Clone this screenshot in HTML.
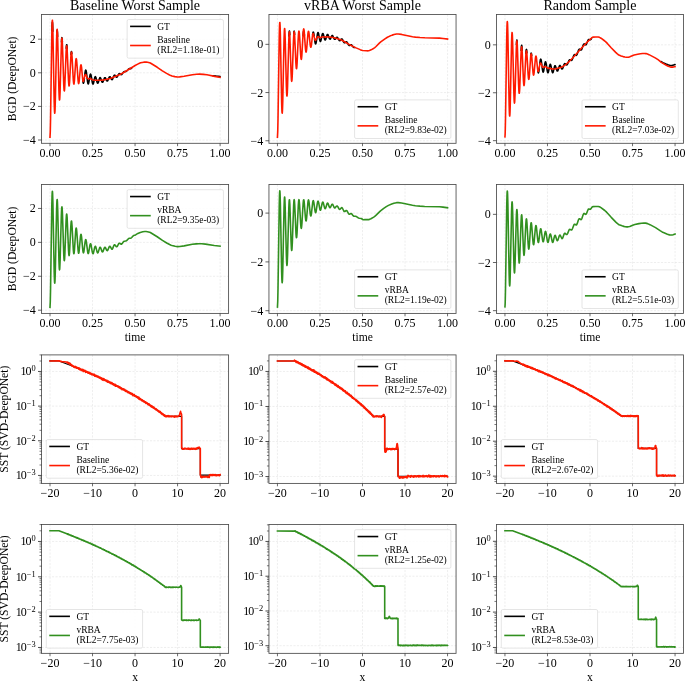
<!DOCTYPE html><html><head><meta charset="utf-8"><style>html,body{margin:0;padding:0;background:#fff;overflow:hidden}svg{display:block;will-change:transform}</style></head><body><svg width="685" height="681" viewBox="0 0 685 681" font-family='"Liberation Serif", serif' fill="#000">
<rect width="685" height="681" fill="#fff"/>
<path d="M50.00 14.45 V143.30 M92.53 14.45 V143.30 M135.05 14.45 V143.30 M177.57 14.45 V143.30 M220.10 14.45 V143.30 M41.50 140.00 H228.60 M41.50 106.40 H228.60 M41.50 72.80 H228.60 M41.50 39.20 H228.60" stroke="#e0e0e0" stroke-width="0.55" stroke-dasharray="2.1 1.4" fill="none"/>
<path d="M51.92 31.15 52.13 24.74 52.34 22.24 52.42 22.30 52.56 23.71 52.84 31.36 M56.74 35.59 56.95 31.48 57.09 30.36 57.17 30.29 57.38 32.04 57.59 36.51 M61.49 42.10 61.70 38.78 61.92 37.67 62.13 38.79 62.34 42.00 M66.24 48.33 66.45 45.70 66.67 44.72 66.74 44.77 66.88 45.43 67.16 48.84 M70.99 54.53 71.20 52.44 71.42 51.61 71.49 51.62 71.63 52.07 71.84 53.78 M82.76 80.20 83.19 82.79 83.33 83.13 83.40 83.21 83.54 83.15 83.90 81.91 84.39 78.25 M84.68 75.73 85.10 72.35 85.38 70.81 85.67 70.11 85.81 70.10 85.95 70.32 86.16 71.07 86.45 72.75 87.58 81.86 87.94 83.48 88.08 83.79 88.22 83.89 88.36 83.79 88.50 83.50 88.79 82.41 89.99 75.29 90.35 74.25 90.49 74.12 90.63 74.17 90.91 74.75 91.20 75.92 92.40 82.81 92.69 83.72 92.97 84.06 93.18 83.92 93.47 83.26 94.67 77.92 94.96 77.07 95.24 76.68 95.38 76.66 95.52 76.77 95.81 77.32 97.08 82.19 97.44 83.01 97.72 83.23 97.93 83.13 98.22 82.65 99.49 78.53 99.78 77.93 100.06 77.65 100.34 77.72 100.63 78.13 101.90 81.65 102.26 82.20 102.54 82.30 102.75 82.16 103.04 81.72 104.24 78.48 104.53 77.96 104.81 77.69 105.09 77.69 105.38 77.96 106.65 80.52 107.01 80.95 107.29 81.02 107.58 80.84 107.86 80.42 109.06 77.48 109.35 76.98 109.63 76.72 109.92 76.70 110.20 76.93 111.48 79.27 111.76 79.58 112.04 79.65 112.33 79.46 112.61 79.02 113.74 76.15 114.03 75.60 114.31 75.25 114.60 75.13 114.95 75.30 116.08 76.85 116.37 77.10 116.65 77.19 116.93 77.08 117.22 76.80 118.00 75.39 M118.14 75.10 118.71 74.12 119.20 73.66 119.42 73.61 119.70 73.67 120.83 74.49 121.33 74.60 121.61 74.50 121.90 74.28 122.61 73.35 M123.17 72.53 123.60 72.06 124.02 71.77 124.45 71.63 125.02 71.58 M125.73 71.51 126.29 71.29 126.79 70.94 M128.21 69.40 128.99 68.80 129.77 68.65 M130.19 68.67 130.69 68.65 131.04 68.53 131.47 68.25 131.89 67.81 M212.79 75.69 216.20 76.13 220.10 76.50" fill="none" stroke="#000000" stroke-width="1.6" stroke-linejoin="round" stroke-linecap="round"/>
<path d="M50.00 137.14 50.29 131.34 50.57 118.27 51.78 35.88 52.06 24.58 52.20 21.50 52.34 20.23 52.42 20.28 52.49 20.79 52.63 23.10 52.91 32.48 54.19 102.22 54.47 110.61 54.61 112.66 54.75 113.19 54.90 112.21 55.04 109.77 55.32 100.99 56.60 39.06 56.88 31.60 57.02 29.78 57.17 29.31 57.31 30.18 57.45 32.34 57.73 40.08 58.94 90.68 59.22 97.55 59.36 99.38 59.51 100.06 59.65 99.58 59.79 98.00 60.07 91.80 61.35 45.79 61.63 40.07 61.77 38.62 61.92 38.16 62.06 38.69 62.20 40.17 62.48 45.69 63.76 84.91 64.04 89.57 64.18 90.68 64.33 90.95 64.47 90.38 64.61 89.00 64.89 84.07 66.10 51.91 66.38 47.51 66.52 46.34 66.67 45.89 66.74 45.95 66.88 46.60 67.16 49.91 68.44 79.41 68.79 84.51 68.94 85.52 69.08 85.91 69.15 85.86 69.29 85.29 69.57 82.40 70.85 57.05 71.13 53.52 71.27 52.53 71.42 52.10 71.49 52.10 71.56 52.24 71.70 52.95 72.05 56.91 73.33 80.40 73.61 83.19 73.76 83.87 73.90 84.05 74.04 83.74 74.18 82.95 74.47 80.12 75.67 61.76 75.95 59.39 76.10 58.82 76.24 58.69 76.38 58.99 76.52 59.71 76.81 62.29 78.08 80.49 78.36 82.75 78.51 83.34 78.65 83.55 78.79 83.39 78.93 82.86 79.22 80.85 80.42 67.25 80.70 65.45 80.85 64.99 80.99 64.86 81.13 65.05 81.27 65.55 81.56 67.40 82.69 79.52 82.97 81.05 83.12 81.40 83.26 81.49 83.47 81.22 83.68 80.56 84.82 75.45 85.10 74.74 85.38 74.45 85.67 74.53 85.95 74.93 86.94 77.32 87.37 78.16 87.72 78.61 88.15 78.84 88.57 78.83 89.50 78.61 89.99 78.61 90.63 78.82 92.19 79.67 92.97 79.92 94.03 80.08 96.80 80.25 99.00 80.26 101.34 80.12 103.53 79.88 105.80 79.51 109.99 78.46 112.18 77.76 121.12 73.90 124.10 72.27 135.16 65.50 137.71 64.11 139.48 63.25 140.62 62.82 142.18 62.46 143.81 62.17 145.15 62.05 146.29 62.09 147.56 62.27 149.55 62.73 150.33 63.03 157.28 67.29 162.38 70.81 166.57 73.38 169.54 74.95 171.03 75.63 172.10 75.98 174.86 76.65 177.27 76.98 179.61 76.90 184.08 76.28 192.37 74.71 196.70 74.24 199.53 74.15 203.29 74.36 206.91 74.74 208.18 74.95 214.64 76.40 220.10 77.34" fill="none" stroke="#ff1a00" stroke-width="1.6" stroke-linejoin="round" stroke-linecap="square"/>
<rect x="41.5" y="14.45" width="187.10" height="128.85" fill="none" stroke="#4a4a4a" stroke-width="0.85"/>
<path d="M50.00 143.30 v2.9 M92.53 143.30 v2.9 M135.05 143.30 v2.9 M177.57 143.30 v2.9 M220.10 143.30 v2.9" stroke="#3a3a3a" stroke-width="0.75"/>
<text x="50.00" y="157.05" font-size="12" text-anchor="middle">0.00</text>
<text x="92.53" y="157.05" font-size="12" text-anchor="middle">0.25</text>
<text x="135.05" y="157.05" font-size="12" text-anchor="middle">0.50</text>
<text x="177.57" y="157.05" font-size="12" text-anchor="middle">0.75</text>
<text x="220.10" y="157.05" font-size="12" text-anchor="middle">1.00</text>
<path d="M41.50 140.00 h-3.5 M41.50 106.40 h-3.5 M41.50 72.80 h-3.5 M41.50 39.20 h-3.5" stroke="#333" stroke-width="0.75"/>
<text x="35.75" y="144.05" font-size="12" text-anchor="end">&#8722;4</text>
<text x="35.75" y="110.45" font-size="12" text-anchor="end">&#8722;2</text>
<text x="35.75" y="76.85" font-size="12" text-anchor="end">0</text>
<text x="35.75" y="43.25" font-size="12" text-anchor="end">2</text>
<rect x="127.14" y="19.55" width="96.3" height="38.6" rx="1.5" fill="#ffffff" fill-opacity="0.85" stroke="#dcdcdc" stroke-width="0.75"/>
<path d="M130.09 26.40 h20.7" stroke="#000000" stroke-width="1.6"/>
<path d="M130.09 45.50 h20.7" stroke="#ff1a00" stroke-width="1.6"/>
<text x="157.24" y="29.65" font-size="9.5" text-anchor="start">GT</text>
<text x="157.24" y="42.90" font-size="9.5" text-anchor="start">Baseline</text>
<text x="157.24" y="52.70" font-size="9.5" text-anchor="start">(RL2=1.18e-01)</text>
<path d="M277.45 14.45 V143.30 M319.98 14.45 V143.30 M362.50 14.45 V143.30 M405.02 14.45 V143.30 M447.55 14.45 V143.30 M268.95 140.75 H456.05 M268.95 92.55 H456.05 M268.95 44.35 H456.05" stroke="#e0e0e0" stroke-width="0.55" stroke-dasharray="2.1 1.4" fill="none"/>
<path d="M288.94 36.14 289.15 32.54 289.37 31.12 289.44 31.14 289.58 31.92 289.79 34.81 M293.76 34.25 293.97 31.83 294.05 31.39 294.19 31.10 294.40 32.06 294.61 34.57 M303.05 35.75 303.40 32.17 303.55 31.43 303.69 31.11 303.83 31.21 304.04 32.13 304.40 35.38 M312.62 34.39 312.98 32.54 313.19 32.09 313.33 32.08 313.47 32.30 313.68 33.03 314.11 35.61 M314.61 39.46 314.96 41.89 315.24 43.24 315.53 43.86 315.67 43.86 315.81 43.67 316.02 43.03 316.31 41.61 317.44 34.05 317.73 32.96 318.01 32.54 318.22 32.69 318.51 33.45 319.71 39.85 320.07 41.09 320.35 41.46 320.49 41.43 320.63 41.25 320.92 40.50 322.12 34.86 322.48 33.82 322.76 33.50 322.90 33.53 323.04 33.69 323.33 34.32 324.53 38.99 324.82 39.70 325.10 40.01 325.38 39.91 325.67 39.41 326.87 35.43 327.23 34.68 327.51 34.45 327.79 34.56 328.08 34.99 329.28 38.25 329.57 38.79 329.85 39.07 330.13 39.08 330.42 38.81 331.69 36.08 331.98 35.68 332.26 35.52 332.54 35.62 332.83 35.97 334.03 38.59 334.32 39.03 334.60 39.27 334.88 39.31 335.17 39.17 336.37 37.70 336.66 37.46 336.94 37.36 337.22 37.41 337.58 37.71 338.29 38.88 M338.43 39.16 339.14 40.35 339.42 40.61 339.71 40.70 339.99 40.62 340.27 40.39 341.34 39.11 341.62 38.94 341.90 38.95 342.12 39.09 342.40 39.43 343.04 40.70 M343.18 41.02 343.82 42.27 344.31 42.78 344.53 42.84 344.81 42.78 345.94 41.93 346.44 41.81 346.72 41.92 347.08 42.28 347.79 43.51 M348.07 44.06 348.64 45.00 349.14 45.42 349.63 45.43 350.62 44.90 351.12 44.81 351.69 45.09 352.40 45.93 M352.96 46.69 353.39 47.14 353.81 47.42 354.24 47.53 354.88 47.49" fill="none" stroke="#000000" stroke-width="1.6" stroke-linejoin="round" stroke-linecap="round"/>
<path d="M277.45 137.14 277.74 131.40 278.02 118.40 279.23 37.51 279.51 26.61 279.65 23.64 279.79 22.43 279.87 22.48 279.94 22.97 280.08 25.23 280.36 34.35 281.64 102.54 281.92 110.73 282.06 112.68 282.13 113.09 282.20 113.12 282.35 112.05 282.49 109.53 282.77 100.60 284.05 38.46 284.33 30.93 284.47 29.03 284.62 28.46 284.76 29.19 284.90 31.18 285.18 38.52 286.39 87.30 286.67 93.83 286.81 95.50 286.96 96.02 287.10 95.40 287.24 93.67 287.52 87.21 288.80 40.15 289.08 34.13 289.22 32.50 289.37 31.86 289.44 31.90 289.58 32.71 289.86 37.01 291.07 72.79 291.42 79.49 291.56 80.82 291.71 81.32 291.85 80.95 291.99 79.76 292.27 75.07 293.48 40.64 293.76 35.04 294.05 32.15 294.19 31.82 294.33 32.23 294.61 35.11 295.89 63.16 296.24 67.79 296.39 68.59 296.46 68.75 296.53 68.75 296.67 68.25 296.81 67.13 297.09 63.19 298.16 39.54 298.44 34.70 298.72 31.81 298.87 31.20 298.94 31.11 299.01 31.16 299.15 31.67 299.36 33.41 299.72 38.41 300.64 54.74 300.99 58.44 301.14 59.14 301.28 59.35 301.42 59.06 301.56 58.29 301.84 55.40 303.05 34.19 303.40 30.14 303.55 29.30 303.69 28.94 303.83 29.08 303.97 29.69 304.26 32.17 305.46 49.01 305.74 51.27 305.89 51.87 306.03 52.10 306.17 51.96 306.31 51.46 306.67 48.83 307.94 33.70 308.23 31.90 308.37 31.46 308.51 31.34 308.72 31.73 309.01 33.25 310.21 44.80 310.49 46.53 310.78 47.25 310.92 47.21 311.06 46.90 311.42 45.07 312.55 35.17 312.83 33.93 312.98 33.64 313.12 33.56 313.33 33.78 313.61 34.60 314.75 39.39 315.03 40.07 315.32 40.37 315.60 40.31 315.88 39.95 317.23 37.12 317.51 36.79 317.87 36.61 318.29 36.69 319.43 37.46 320.07 37.65 320.63 37.56 321.98 37.02 322.76 36.92 324.82 37.07 327.16 36.91 328.72 36.94 331.20 37.18 333.11 37.49 336.09 38.25 340.13 39.59 341.90 40.30 344.17 41.47 348.64 44.17 352.18 46.07 355.45 47.63 360.20 49.63 361.68 50.16 362.89 50.47 366.29 50.81 368.14 50.84 369.48 50.55 371.11 49.83 373.95 48.21 374.80 47.59 375.79 46.74 379.34 43.19 380.76 41.92 384.59 39.08 387.42 37.29 389.83 36.11 392.24 35.13 394.02 34.58 396.43 34.06 397.21 33.99 398.20 34.02 401.60 34.41 412.52 36.68 415.43 37.12 420.04 37.50 424.79 37.76 439.53 38.14 443.01 38.45 447.55 39.05" fill="none" stroke="#ff1a00" stroke-width="1.6" stroke-linejoin="round" stroke-linecap="square"/>
<rect x="268.95" y="14.45" width="187.10" height="128.85" fill="none" stroke="#4a4a4a" stroke-width="0.85"/>
<path d="M277.45 143.30 v2.9 M319.98 143.30 v2.9 M362.50 143.30 v2.9 M405.02 143.30 v2.9 M447.55 143.30 v2.9" stroke="#3a3a3a" stroke-width="0.75"/>
<text x="277.45" y="157.05" font-size="12" text-anchor="middle">0.00</text>
<text x="319.98" y="157.05" font-size="12" text-anchor="middle">0.25</text>
<text x="362.50" y="157.05" font-size="12" text-anchor="middle">0.50</text>
<text x="405.02" y="157.05" font-size="12" text-anchor="middle">0.75</text>
<text x="447.55" y="157.05" font-size="12" text-anchor="middle">1.00</text>
<path d="M268.95 140.75 h-3.5 M268.95 92.55 h-3.5 M268.95 44.35 h-3.5" stroke="#333" stroke-width="0.75"/>
<text x="263.20" y="144.80" font-size="12" text-anchor="end">&#8722;4</text>
<text x="263.20" y="96.60" font-size="12" text-anchor="end">&#8722;2</text>
<text x="263.20" y="48.40" font-size="12" text-anchor="end">0</text>
<rect x="354.60" y="99.90" width="96.3" height="38.6" rx="1.5" fill="#ffffff" fill-opacity="0.85" stroke="#dcdcdc" stroke-width="0.75"/>
<path d="M357.55 106.75 h20.7" stroke="#000000" stroke-width="1.6"/>
<path d="M357.55 125.85 h20.7" stroke="#ff1a00" stroke-width="1.6"/>
<text x="384.70" y="110.00" font-size="9.5" text-anchor="start">GT</text>
<text x="384.70" y="123.25" font-size="9.5" text-anchor="start">Baseline</text>
<text x="384.70" y="133.05" font-size="9.5" text-anchor="start">(RL2=9.83e-02)</text>
<path d="M504.95 14.45 V143.30 M547.48 14.45 V143.30 M590.00 14.45 V143.30 M632.52 14.45 V143.30 M675.05 14.45 V143.30 M496.45 140.67 H683.55 M496.45 92.75 H683.55 M496.45 44.83 H683.55" stroke="#e0e0e0" stroke-width="0.55" stroke-dasharray="2.1 1.4" fill="none"/>
<path d="M516.44 44.58 516.65 41.19 516.87 40.02 517.08 41.11 517.29 44.30 M521.12 50.47 521.40 46.42 521.62 45.31 521.69 45.33 521.76 45.53 521.90 46.50 522.18 50.45 M525.87 53.59 526.15 50.37 526.37 49.40 526.44 49.37 526.51 49.48 526.65 50.12 526.93 52.93 M530.69 55.71 530.98 53.66 531.19 53.18 531.40 53.63 531.68 55.55 M537.78 70.60 538.14 72.46 538.28 72.76 538.35 72.82 538.49 72.72 538.85 71.40 539.20 68.86 M539.70 64.43 540.26 60.31 540.55 59.31 540.76 59.14 540.97 59.48 541.26 60.67 541.89 65.34 M542.04 66.52 542.39 69.23 542.74 71.19 543.03 71.98 543.17 72.08 543.31 71.98 543.52 71.47 543.81 70.23 544.94 63.12 545.30 61.95 545.44 61.78 545.58 61.80 545.86 62.39 546.15 63.64 547.35 71.32 547.71 72.53 547.85 72.72 547.99 72.75 548.27 72.31 548.56 71.31 549.76 65.26 550.05 64.52 550.19 64.36 550.33 64.34 550.61 64.73 550.90 65.65 552.17 71.79 552.46 72.51 552.60 72.68 552.74 72.72 552.95 72.52 553.24 71.84 554.37 67.06 554.66 66.21 554.94 65.76 555.08 65.69 555.22 65.74 555.51 66.13 556.85 70.38 557.21 70.97 557.49 71.04 557.70 70.86 557.99 70.31 559.12 66.65 559.41 65.95 559.69 65.54 559.97 65.45 560.33 65.76 561.60 68.53 561.89 68.89 562.17 68.97 562.46 68.76 562.74 68.26 563.87 64.97 564.44 63.87 564.72 63.66 565.08 63.69 566.21 64.76 566.50 64.91 566.78 64.91 567.06 64.73 567.42 64.25 568.13 62.62 M568.41 61.86 569.05 60.42 569.33 60.01 569.62 59.78 569.83 59.72 570.11 59.76 571.25 60.39 571.53 60.37 571.74 60.24 572.24 59.55 572.88 57.97 M573.16 57.16 573.87 55.40 574.15 54.95 574.44 54.70 574.65 54.63 574.93 54.68 576.00 55.35 576.28 55.35 576.56 55.17 577.06 54.36 577.63 52.80 M577.91 51.91 578.55 50.13 579.05 49.32 579.33 49.15 579.61 49.18 580.68 50.01 580.96 50.09 581.17 50.03 581.46 49.76 581.74 49.27 582.45 47.33 M582.73 46.43 583.30 44.87 583.80 44.08 584.08 43.92 584.36 43.95 585.43 44.76 585.71 44.83 585.92 44.77 586.21 44.52 586.49 44.07 587.20 42.30 M587.48 41.50 587.98 40.31 588.48 39.61 588.69 39.48 588.97 39.43 589.96 39.73 590.46 39.68 590.96 39.28 591.52 38.39 M660.87 61.56 662.92 62.72 665.97 64.03 667.96 64.80 669.59 65.25 671.00 65.43 672.21 65.37 673.56 65.05 675.05 64.48" fill="none" stroke="#000000" stroke-width="1.6" stroke-linejoin="round" stroke-linecap="round"/>
<path d="M504.95 136.84 505.10 135.05 505.24 131.25 505.52 118.30 506.73 36.70 507.01 25.69 507.15 22.73 507.29 21.58 507.44 22.24 507.58 24.65 507.86 34.17 509.14 104.77 509.42 113.36 509.56 115.48 509.70 116.05 509.85 115.10 509.99 112.66 510.27 103.84 511.55 42.03 511.83 34.71 511.97 32.96 512.04 32.58 512.12 32.54 512.26 33.44 512.40 35.61 512.68 43.33 513.89 93.75 514.17 100.61 514.31 102.43 514.46 103.10 514.60 102.61 514.74 101.01 515.02 94.78 516.30 48.54 516.58 42.76 516.72 41.27 516.87 40.78 517.08 41.89 517.36 46.56 518.57 83.98 518.92 91.11 519.06 92.60 519.21 93.24 519.28 93.24 519.35 93.03 519.49 91.97 519.77 87.58 520.98 54.68 521.33 48.62 521.47 47.38 521.62 46.87 521.76 47.11 521.90 48.05 522.25 53.19 523.46 80.85 523.74 84.44 523.89 85.33 524.03 85.59 524.24 84.80 524.52 81.70 525.73 57.16 526.08 52.41 526.37 50.88 526.44 50.84 526.51 50.94 526.65 51.54 526.93 54.19 528.14 74.62 528.49 78.35 528.64 79.09 528.78 79.37 528.92 79.17 529.06 78.53 529.42 75.14 530.62 57.08 530.90 54.68 531.05 54.05 531.19 53.82 531.33 53.99 531.47 54.55 531.76 56.71 533.03 72.58 533.31 74.50 533.46 74.97 533.60 75.08 533.74 74.85 533.88 74.29 534.17 72.25 535.37 58.71 535.65 56.82 535.80 56.31 535.94 56.10 536.15 56.36 536.43 57.72 537.64 69.45 537.85 70.69 538.14 71.42 538.21 71.45 538.35 71.34 538.63 70.53 539.91 64.07 540.19 63.31 540.48 63.00 540.76 63.11 541.04 63.56 542.32 66.73 542.67 67.22 543.03 67.42 543.52 67.30 544.59 66.56 545.16 66.46 545.72 66.70 547.00 67.75 547.78 68.15 549.91 68.37 552.17 68.91 553.38 69.04 554.51 68.96 555.93 68.72 560.61 67.55 562.60 66.70 564.58 65.41 566.64 63.75 569.62 61.04 571.67 59.00 574.22 56.28 582.09 47.47 586.77 42.46 588.19 41.07 591.88 37.73 592.45 37.31 592.87 37.17 595.71 36.96 598.12 36.95 599.47 37.34 601.03 38.20 604.78 41.00 606.06 42.12 607.55 43.67 611.16 47.71 615.70 52.40 617.05 53.69 618.04 54.49 618.89 55.04 621.16 55.96 623.15 56.61 624.85 57.02 626.48 57.25 627.90 57.27 628.82 57.11 629.81 56.82 634.14 55.09 637.75 54.30 640.45 53.81 642.64 53.54 644.70 53.46 646.05 53.60 647.47 54.00 649.02 54.64 655.19 57.85 658.03 59.67 660.72 61.81 662.57 63.11 666.32 65.23 668.24 66.18 670.01 66.85 671.64 67.15 673.20 67.08 675.05 66.63" fill="none" stroke="#ff1a00" stroke-width="1.6" stroke-linejoin="round" stroke-linecap="square"/>
<rect x="496.45" y="14.45" width="187.10" height="128.85" fill="none" stroke="#4a4a4a" stroke-width="0.85"/>
<path d="M504.95 143.30 v2.9 M547.48 143.30 v2.9 M590.00 143.30 v2.9 M632.52 143.30 v2.9 M675.05 143.30 v2.9" stroke="#3a3a3a" stroke-width="0.75"/>
<text x="504.95" y="157.05" font-size="12" text-anchor="middle">0.00</text>
<text x="547.48" y="157.05" font-size="12" text-anchor="middle">0.25</text>
<text x="590.00" y="157.05" font-size="12" text-anchor="middle">0.50</text>
<text x="632.52" y="157.05" font-size="12" text-anchor="middle">0.75</text>
<text x="675.05" y="157.05" font-size="12" text-anchor="middle">1.00</text>
<path d="M496.45 140.67 h-3.5 M496.45 92.75 h-3.5 M496.45 44.83 h-3.5" stroke="#333" stroke-width="0.75"/>
<text x="490.70" y="144.72" font-size="12" text-anchor="end">&#8722;4</text>
<text x="490.70" y="96.80" font-size="12" text-anchor="end">&#8722;2</text>
<text x="490.70" y="48.88" font-size="12" text-anchor="end">0</text>
<rect x="582.00" y="99.90" width="96.3" height="38.6" rx="1.5" fill="#ffffff" fill-opacity="0.85" stroke="#dcdcdc" stroke-width="0.75"/>
<path d="M584.95 106.75 h20.7" stroke="#000000" stroke-width="1.6"/>
<path d="M584.95 125.85 h20.7" stroke="#ff1a00" stroke-width="1.6"/>
<text x="612.10" y="110.00" font-size="9.5" text-anchor="start">GT</text>
<text x="612.10" y="123.25" font-size="9.5" text-anchor="start">Baseline</text>
<text x="612.10" y="133.05" font-size="9.5" text-anchor="start">(RL2=7.03e-02)</text>
<path d="M50.00 184.55 V313.40 M92.53 184.55 V313.40 M135.05 184.55 V313.40 M177.57 184.55 V313.40 M220.10 184.55 V313.40 M41.50 310.20 H228.60 M41.50 276.28 H228.60 M41.50 242.36 H228.60 M41.50 208.44 H228.60" stroke="#e0e0e0" stroke-width="0.55" stroke-dasharray="2.1 1.4" fill="none"/>
<path d="M50.00 307.32 50.29 301.48 50.57 288.38 51.78 206.66 52.06 195.57 52.20 192.55 52.34 191.32 52.42 191.38 52.49 191.87 52.63 194.15 52.91 203.35 54.19 272.20 54.47 280.57 54.61 282.61 54.75 283.13 54.90 282.15 55.04 279.70 55.32 270.89 56.60 209.10 56.88 201.71 57.02 199.91 57.17 199.45 57.31 200.30 57.45 202.43 57.73 210.06 58.94 260.45 59.22 267.35 59.36 269.19 59.51 269.88 59.65 269.40 59.79 267.79 60.14 259.41 61.35 214.76 61.63 208.89 61.77 207.39 61.92 206.89 62.06 207.40 62.20 208.88 62.48 214.46 63.76 254.47 64.04 259.25 64.18 260.40 64.33 260.68 64.47 260.10 64.61 258.68 64.89 253.60 66.10 220.28 66.38 215.71 66.52 214.48 66.67 214.01 66.74 214.07 66.88 214.73 67.16 218.17 68.44 248.84 68.79 254.14 68.94 255.19 69.08 255.59 69.15 255.54 69.29 254.96 69.57 251.98 70.78 227.15 71.13 222.38 71.27 221.38 71.42 220.97 71.56 221.13 71.70 221.88 72.05 225.98 73.33 250.01 73.61 252.84 73.76 253.53 73.90 253.72 74.04 253.40 74.18 252.60 74.47 249.73 75.67 231.17 75.95 228.78 76.10 228.21 76.24 228.08 76.38 228.38 76.52 229.12 76.81 231.73 78.08 250.12 78.36 252.40 78.51 253.00 78.65 253.21 78.79 253.05 78.93 252.52 79.22 250.49 80.42 236.76 80.70 234.94 80.85 234.48 80.99 234.35 81.13 234.54 81.27 235.04 81.56 236.91 82.69 249.19 82.97 251.41 83.26 252.65 83.40 252.86 83.54 252.80 83.90 251.55 85.10 241.91 85.45 240.09 85.60 239.73 85.74 239.61 85.88 239.72 86.02 240.06 86.38 241.82 87.65 251.92 87.94 253.14 88.08 253.45 88.22 253.55 88.43 253.33 88.72 252.39 89.92 245.19 90.21 244.13 90.49 243.70 90.63 243.74 90.77 243.95 91.06 244.85 92.26 251.82 92.62 253.20 92.90 253.69 93.04 253.71 93.18 253.59 93.47 252.92 94.67 247.52 95.03 246.53 95.31 246.25 95.59 246.46 95.88 247.12 97.01 251.61 97.30 252.41 97.58 252.83 97.72 252.89 97.86 252.85 98.22 252.31 99.49 248.14 99.85 247.43 100.13 247.24 100.41 247.40 100.70 247.89 101.97 251.44 102.26 251.85 102.54 251.95 102.75 251.81 103.04 251.37 104.24 248.10 104.53 247.57 104.81 247.29 105.09 247.30 105.45 247.67 106.58 250.04 106.87 250.45 107.15 250.65 107.43 250.60 107.79 250.18 109.06 247.08 109.42 246.49 109.70 246.29 109.99 246.34 110.34 246.72 111.55 248.99 111.83 249.24 112.11 249.25 112.33 249.08 112.61 248.64 113.82 245.59 114.10 245.07 114.38 244.78 114.67 244.72 114.95 244.88 116.15 246.53 116.51 246.77 116.79 246.76 117.29 246.30 118.57 243.90 119.13 243.27 119.35 243.19 119.63 243.21 120.91 244.10 121.26 244.18 121.54 244.12 122.04 243.70 123.25 242.00 123.81 241.44 124.38 241.19 125.66 241.07 126.36 240.80 127.07 240.22 128.35 238.78 128.99 238.32 129.56 238.18 130.62 238.18 131.19 237.97 131.75 237.48 132.96 236.06 133.60 235.57 135.58 234.94 137.85 233.45 140.26 232.41 142.81 231.79 144.87 231.52 146.08 231.53 147.42 231.70 149.55 232.20 150.33 232.50 157.21 236.75 162.45 240.40 166.71 243.02 169.61 244.57 171.10 245.25 172.10 245.57 175.14 246.30 177.48 246.59 179.75 246.49 184.15 245.86 192.30 244.30 196.27 243.85 198.90 243.72 201.59 243.81 205.42 244.12 214.28 245.49 220.10 246.09" fill="none" stroke="#31901f" stroke-width="1.6" stroke-linejoin="round" stroke-linecap="square"/>
<rect x="41.5" y="184.55" width="187.10" height="128.85" fill="none" stroke="#4a4a4a" stroke-width="0.85"/>
<path d="M50.00 313.40 v2.9 M92.53 313.40 v2.9 M135.05 313.40 v2.9 M177.57 313.40 v2.9 M220.10 313.40 v2.9" stroke="#3a3a3a" stroke-width="0.75"/>
<text x="50.00" y="327.15" font-size="12" text-anchor="middle">0.00</text>
<text x="92.53" y="327.15" font-size="12" text-anchor="middle">0.25</text>
<text x="135.05" y="327.15" font-size="12" text-anchor="middle">0.50</text>
<text x="177.57" y="327.15" font-size="12" text-anchor="middle">0.75</text>
<text x="220.10" y="327.15" font-size="12" text-anchor="middle">1.00</text>
<path d="M41.50 310.20 h-3.5 M41.50 276.28 h-3.5 M41.50 242.36 h-3.5 M41.50 208.44 h-3.5" stroke="#333" stroke-width="0.75"/>
<text x="35.75" y="314.25" font-size="12" text-anchor="end">&#8722;4</text>
<text x="35.75" y="280.33" font-size="12" text-anchor="end">&#8722;2</text>
<text x="35.75" y="246.41" font-size="12" text-anchor="end">0</text>
<text x="35.75" y="212.49" font-size="12" text-anchor="end">2</text>
<rect x="127.10" y="189.70" width="96.3" height="38.6" rx="1.5" fill="#ffffff" fill-opacity="0.85" stroke="#dcdcdc" stroke-width="0.75"/>
<path d="M130.05 196.55 h20.7" stroke="#000000" stroke-width="1.6"/>
<path d="M130.05 215.65 h20.7" stroke="#31901f" stroke-width="1.6"/>
<text x="157.20" y="199.80" font-size="9.5" text-anchor="start">GT</text>
<text x="157.20" y="213.05" font-size="9.5" text-anchor="start">vRBA</text>
<text x="157.20" y="222.85" font-size="9.5" text-anchor="start">(RL2=9.35e-03)</text>
<path d="M277.45 184.55 V313.40 M319.98 184.55 V313.40 M362.50 184.55 V313.40 M405.02 184.55 V313.40 M447.55 184.55 V313.40 M268.95 310.70 H456.05 M268.95 261.90 H456.05 M268.95 213.10 H456.05" stroke="#e0e0e0" stroke-width="0.55" stroke-dasharray="2.1 1.4" fill="none"/>
<path d="M277.45 307.04 277.74 301.24 278.02 288.07 279.23 206.18 279.51 195.14 279.65 192.13 279.79 190.91 279.87 190.96 279.94 191.46 280.08 193.74 280.36 202.97 281.64 272.01 281.92 280.31 282.06 282.28 282.13 282.69 282.20 282.72 282.35 281.64 282.49 279.09 282.77 270.05 284.05 207.13 284.33 199.50 284.47 197.58 284.62 196.99 284.76 197.73 284.90 199.75 285.18 207.17 286.39 256.57 286.67 263.19 286.81 264.88 286.96 265.41 287.10 264.78 287.24 263.03 287.59 254.27 288.80 208.36 289.08 202.12 289.22 200.41 289.37 199.70 289.44 199.72 289.58 200.51 289.86 204.85 291.07 241.65 291.42 248.61 291.56 250.00 291.71 250.52 291.85 250.16 291.99 248.92 292.34 242.44 293.62 205.41 293.90 201.05 294.05 199.98 294.19 199.68 294.33 200.15 294.47 201.34 294.75 205.63 295.96 233.32 296.24 236.82 296.46 237.80 296.53 237.80 296.60 237.63 296.74 236.81 297.02 233.36 298.30 205.54 298.65 200.91 298.80 200.01 298.94 199.68 299.08 199.93 299.22 200.72 299.50 203.78 300.71 224.59 300.99 227.38 301.14 228.08 301.28 228.29 301.42 228.00 301.56 227.22 301.92 223.41 303.12 203.49 303.40 200.77 303.55 200.02 303.69 199.69 303.76 199.69 303.90 200.01 304.18 201.81 305.39 217.21 305.74 220.13 305.89 220.72 306.03 220.95 306.17 220.81 306.31 220.31 306.67 217.64 307.94 202.32 308.23 200.50 308.37 200.05 308.51 199.93 308.72 200.33 309.01 201.87 310.21 213.56 310.49 215.31 310.78 216.04 310.92 215.99 311.06 215.68 311.35 214.30 312.62 203.02 312.98 201.15 313.12 200.78 313.26 200.66 313.40 200.76 313.54 201.09 313.83 202.36 315.10 211.38 315.39 212.39 315.60 212.63 315.74 212.54 315.88 212.24 316.24 210.74 317.16 204.32 317.51 202.34 317.80 201.40 317.94 201.18 318.08 201.15 318.36 201.60 318.65 202.65 319.85 209.14 320.14 209.95 320.35 210.18 320.49 210.14 320.63 209.96 320.92 209.20 322.05 203.78 322.33 202.78 322.62 202.21 322.76 202.12 322.90 202.15 323.26 202.75 324.53 207.67 324.89 208.51 325.17 208.72 325.45 208.51 325.74 207.92 327.01 203.71 327.30 203.21 327.58 203.07 327.79 203.19 328.08 203.63 329.28 206.93 329.57 207.47 329.85 207.75 330.13 207.76 330.42 207.49 331.76 204.60 332.12 204.21 332.40 204.18 332.62 204.33 332.90 204.73 334.03 207.27 334.32 207.71 334.60 207.96 334.88 208.00 335.17 207.86 336.37 206.37 336.66 206.13 336.94 206.02 337.29 206.12 337.65 206.46 338.93 208.75 339.28 209.20 339.56 209.38 339.85 209.38 340.20 209.16 341.41 207.74 341.69 207.61 341.90 207.64 342.19 207.84 342.47 208.24 343.68 210.76 344.03 211.28 344.31 211.51 344.53 211.57 344.81 211.51 346.02 210.61 346.30 210.52 346.58 210.57 346.87 210.76 347.15 211.10 348.43 213.45 348.78 213.93 349.06 214.15 349.56 214.21 350.77 213.60 351.05 213.56 351.33 213.62 351.83 213.99 353.11 215.64 353.74 216.18 354.24 216.32 355.45 216.22 356.08 216.34 356.58 216.60 357.79 217.55 358.42 217.93 359.34 218.22 361.19 218.50 361.68 218.75 362.75 219.50 363.39 219.69 365.09 219.48 366.93 219.67 368.35 219.65 369.55 219.35 370.90 218.76 373.74 217.14 374.73 216.44 376.15 215.18 379.20 212.07 380.54 210.82 383.73 208.38 386.29 206.63 388.49 205.39 391.75 203.95 393.87 203.24 396.50 202.67 397.28 202.61 398.27 202.64 401.60 203.04 412.45 205.32 415.36 205.78 419.89 206.16 424.72 206.43 439.53 206.81 443.01 207.13 447.55 207.73" fill="none" stroke="#31901f" stroke-width="1.6" stroke-linejoin="round" stroke-linecap="square"/>
<rect x="268.95" y="184.55" width="187.10" height="128.85" fill="none" stroke="#4a4a4a" stroke-width="0.85"/>
<path d="M277.45 313.40 v2.9 M319.98 313.40 v2.9 M362.50 313.40 v2.9 M405.02 313.40 v2.9 M447.55 313.40 v2.9" stroke="#3a3a3a" stroke-width="0.75"/>
<text x="277.45" y="327.15" font-size="12" text-anchor="middle">0.00</text>
<text x="319.98" y="327.15" font-size="12" text-anchor="middle">0.25</text>
<text x="362.50" y="327.15" font-size="12" text-anchor="middle">0.50</text>
<text x="405.02" y="327.15" font-size="12" text-anchor="middle">0.75</text>
<text x="447.55" y="327.15" font-size="12" text-anchor="middle">1.00</text>
<path d="M268.95 310.70 h-3.5 M268.95 261.90 h-3.5 M268.95 213.10 h-3.5" stroke="#333" stroke-width="0.75"/>
<text x="263.20" y="314.75" font-size="12" text-anchor="end">&#8722;4</text>
<text x="263.20" y="265.95" font-size="12" text-anchor="end">&#8722;2</text>
<text x="263.20" y="217.15" font-size="12" text-anchor="end">0</text>
<rect x="354.60" y="269.90" width="96.3" height="38.6" rx="1.5" fill="#ffffff" fill-opacity="0.85" stroke="#dcdcdc" stroke-width="0.75"/>
<path d="M357.55 276.75 h20.7" stroke="#000000" stroke-width="1.6"/>
<path d="M357.55 295.85 h20.7" stroke="#31901f" stroke-width="1.6"/>
<text x="384.70" y="280.00" font-size="9.5" text-anchor="start">GT</text>
<text x="384.70" y="293.25" font-size="9.5" text-anchor="start">vRBA</text>
<text x="384.70" y="303.05" font-size="9.5" text-anchor="start">(RL2=1.19e-02)</text>
<path d="M504.95 184.55 V313.40 M547.48 184.55 V313.40 M590.00 184.55 V313.40 M632.52 184.55 V313.40 M675.05 184.55 V313.40 M496.45 310.67 H683.55 M496.45 262.51 H683.55 M496.45 214.35 H683.55" stroke="#e0e0e0" stroke-width="0.55" stroke-dasharray="2.1 1.4" fill="none"/>
<path d="M504.95 306.82 505.10 305.02 505.24 301.20 505.52 288.19 506.73 206.17 507.01 195.10 507.15 192.13 507.29 190.97 507.44 191.63 507.58 194.05 507.86 203.61 509.14 274.58 509.42 283.22 509.56 285.35 509.70 285.93 509.85 284.97 509.99 282.52 510.27 273.64 511.55 211.42 511.83 204.03 511.97 202.26 512.04 201.87 512.12 201.82 512.26 202.72 512.40 204.90 512.68 212.65 513.89 263.46 514.17 270.39 514.31 272.23 514.46 272.91 514.60 272.42 514.74 270.80 515.09 262.37 516.30 217.51 516.58 211.58 516.72 210.05 516.87 209.52 517.08 210.61 517.36 215.31 518.57 253.47 518.92 260.79 519.06 262.33 519.21 263.00 519.28 263.00 519.35 262.78 519.49 261.71 519.77 257.18 520.98 223.05 521.33 216.69 521.47 215.38 521.62 214.84 521.69 214.85 521.76 215.06 521.90 216.03 522.25 221.35 523.46 250.30 523.74 254.08 523.89 255.03 524.03 255.32 524.24 254.50 524.52 251.25 525.73 225.50 526.08 220.52 526.22 219.45 526.37 218.95 526.44 218.91 526.51 219.02 526.65 219.67 526.93 222.49 528.14 244.05 528.49 247.98 528.64 248.76 528.78 249.06 528.92 248.86 529.06 248.19 529.34 245.56 530.62 226.03 530.90 223.59 531.05 222.96 531.19 222.74 531.40 223.19 531.68 225.12 532.89 240.76 533.24 243.79 533.39 244.44 533.53 244.74 533.67 244.68 533.81 244.28 534.09 242.50 535.30 228.80 535.65 226.27 535.80 225.75 535.94 225.55 536.08 225.65 536.22 226.07 536.51 227.72 537.71 239.71 537.99 241.56 538.28 242.42 538.42 242.46 538.56 242.24 538.85 241.06 540.05 231.19 540.40 229.30 540.55 228.90 540.69 228.73 540.83 228.79 540.97 229.08 541.26 230.26 542.46 239.34 542.74 240.85 543.03 241.64 543.17 241.73 543.31 241.63 543.60 240.87 543.95 239.06 544.87 233.08 545.23 231.71 545.37 231.45 545.51 231.37 545.65 231.49 545.79 231.79 546.08 232.88 547.21 240.24 547.49 241.58 547.78 242.30 547.92 242.41 548.06 242.36 548.42 241.53 549.62 235.43 549.98 234.28 550.26 233.95 550.40 234.00 550.54 234.20 550.90 235.27 552.17 241.45 552.46 242.17 552.60 242.34 552.74 242.38 552.95 242.18 553.24 241.50 554.37 236.69 554.66 235.84 554.94 235.38 555.08 235.32 555.22 235.36 555.58 235.92 556.71 239.65 557.00 240.33 557.28 240.67 557.56 240.65 557.92 240.13 559.19 236.08 559.55 235.33 559.83 235.08 560.12 235.15 560.40 235.50 561.68 238.28 562.03 238.60 562.31 238.54 562.53 238.30 562.81 237.74 563.94 234.41 564.23 233.79 564.51 233.41 564.79 233.26 565.15 233.35 566.07 234.26 566.43 234.51 566.78 234.53 567.06 234.35 567.56 233.60 568.84 230.44 569.40 229.53 569.69 229.34 570.04 229.33 570.96 229.88 571.32 229.99 571.67 229.89 571.96 229.61 572.52 228.51 573.66 225.42 574.22 224.44 574.51 224.24 574.86 224.22 575.78 224.83 576.14 224.94 576.42 224.86 576.71 224.57 577.27 223.40 578.48 219.84 578.76 219.25 579.05 218.86 579.33 218.69 579.61 218.72 580.82 219.62 581.10 219.61 581.39 219.39 581.95 218.32 583.23 214.55 583.73 213.67 584.01 213.45 584.29 213.44 584.58 213.58 585.43 214.28 585.71 214.35 585.99 214.25 586.28 213.95 586.56 213.44 587.77 210.27 588.33 209.24 588.62 209.00 588.90 208.92 590.04 209.24 590.53 209.14 591.03 208.69 592.09 207.04 592.45 206.76 592.80 206.66 595.57 206.45 598.12 206.43 599.47 206.82 600.95 207.64 604.78 210.50 606.06 211.63 607.55 213.18 611.23 217.32 615.84 222.10 617.26 223.44 618.25 224.21 619.10 224.72 622.08 225.85 623.78 226.36 625.34 226.69 626.83 226.86 628.04 226.83 629.74 226.42 633.36 224.93 634.84 224.48 638.96 223.63 641.51 223.23 643.99 223.03 645.69 223.11 647.61 223.61 649.95 224.66 655.55 227.65 660.44 230.89 662.14 231.92 663.42 232.55 667.39 234.21 669.52 234.86 670.44 235.01 671.36 235.06 672.21 234.99 673.06 234.82 675.05 234.10" fill="none" stroke="#31901f" stroke-width="1.6" stroke-linejoin="round" stroke-linecap="square"/>
<rect x="496.45" y="184.55" width="187.10" height="128.85" fill="none" stroke="#4a4a4a" stroke-width="0.85"/>
<path d="M504.95 313.40 v2.9 M547.48 313.40 v2.9 M590.00 313.40 v2.9 M632.52 313.40 v2.9 M675.05 313.40 v2.9" stroke="#3a3a3a" stroke-width="0.75"/>
<text x="504.95" y="327.15" font-size="12" text-anchor="middle">0.00</text>
<text x="547.48" y="327.15" font-size="12" text-anchor="middle">0.25</text>
<text x="590.00" y="327.15" font-size="12" text-anchor="middle">0.50</text>
<text x="632.52" y="327.15" font-size="12" text-anchor="middle">0.75</text>
<text x="675.05" y="327.15" font-size="12" text-anchor="middle">1.00</text>
<path d="M496.45 310.67 h-3.5 M496.45 262.51 h-3.5 M496.45 214.35 h-3.5" stroke="#333" stroke-width="0.75"/>
<text x="490.70" y="314.72" font-size="12" text-anchor="end">&#8722;4</text>
<text x="490.70" y="266.56" font-size="12" text-anchor="end">&#8722;2</text>
<text x="490.70" y="218.40" font-size="12" text-anchor="end">0</text>
<rect x="582.00" y="269.90" width="96.3" height="38.6" rx="1.5" fill="#ffffff" fill-opacity="0.85" stroke="#dcdcdc" stroke-width="0.75"/>
<path d="M584.95 276.75 h20.7" stroke="#000000" stroke-width="1.6"/>
<path d="M584.95 295.85 h20.7" stroke="#31901f" stroke-width="1.6"/>
<text x="612.10" y="280.00" font-size="9.5" text-anchor="start">GT</text>
<text x="612.10" y="293.25" font-size="9.5" text-anchor="start">vRBA</text>
<text x="612.10" y="303.05" font-size="9.5" text-anchor="start">(RL2=5.51e-03)</text>
<path d="M50.00 354.90 V483.40 M92.53 354.90 V483.40 M135.05 354.90 V483.40 M177.57 354.90 V483.40 M220.10 354.90 V483.40 M41.50 371.45 H228.60 M41.50 406.11 H228.60 M41.50 440.77 H228.60 M41.50 475.43 H228.60" stroke="#e0e0e0" stroke-width="0.55" stroke-dasharray="2.1 1.4" fill="none"/>
<path d="M50.00 360.94 58.93 360.94 71.60 365.75 83.81 370.70 95.56 375.79 106.71 380.95 115.10 385.09 123.19 389.31 130.97 393.60 138.45 397.97 145.63 402.41 152.65 407.03 159.21 411.62 165.62 416.39 181.61 416.39 181.61 448.71 200.32 448.71 200.32 475.13 220.10 475.13" fill="none" stroke="#000000" stroke-width="1.2" stroke-linejoin="round" stroke-linecap="square"/>
<path d="M50.00 360.94 58.93 360.89 61.83 361.62 66.26 362.01 66.87 362.19 67.22 362.79 67.41 362.11 67.48 362.44 67.60 362.38 67.79 362.54 67.79 363.12 67.98 362.66 68.09 363.03 68.17 362.97 68.24 363.14 68.40 362.65 68.55 363.18 68.85 362.66 68.92 364.02 69.01 363.05 69.11 363.59 69.31 363.19 69.47 363.31 69.49 363.64 69.62 363.23 69.68 363.93 69.87 363.69 69.92 364.20 70.06 363.36 70.08 363.77 70.23 363.48 70.25 364.26 70.38 364.48 70.53 364.21 70.63 364.73 70.69 364.44 70.82 364.67 70.84 364.12 70.99 365.02 71.01 364.44 71.19 365.27 71.30 365.25 71.38 365.48 71.57 364.83 71.60 365.15 71.75 365.09 71.76 364.75 72.14 366.11 72.21 365.34 72.33 366.28 72.37 365.47 72.52 365.79 72.52 365.40 72.71 366.18 72.82 365.84 72.90 366.20 73.09 366.10 73.28 366.28 73.28 366.50 73.43 366.36 73.47 367.05 73.59 366.43 73.65 366.82 73.74 366.06 73.84 366.06 73.89 367.20 74.03 366.55 74.20 367.04 74.22 366.50 74.41 367.39 74.50 366.91 74.65 366.85 74.79 367.38 74.81 366.74 74.96 366.77 74.98 367.43 75.17 367.15 75.27 367.36 75.36 366.60 75.55 367.63 75.72 367.38 75.74 366.57 75.88 367.48 76.03 367.31 76.11 367.54 76.18 366.76 76.30 367.79 76.33 367.36 76.49 367.62 76.49 367.47 76.64 368.15 76.68 367.15 76.94 368.19 77.06 368.17 77.10 367.73 77.40 367.64 77.55 368.11 77.63 367.86 77.82 368.26 78.01 367.86 78.01 368.22 78.17 368.49 78.32 367.77 78.38 368.53 78.57 368.58 78.62 368.13 78.76 369.25 78.78 368.49 78.93 368.27 78.95 368.97 79.08 368.23 79.23 368.99 79.33 368.77 79.39 369.40 79.52 369.12 79.54 368.30 79.69 369.30 79.71 368.36 79.84 369.08 79.90 368.73 80.00 369.10 80.09 369.93 80.28 369.17 80.30 369.64 80.45 369.77 80.47 369.18 80.65 369.97 80.84 369.17 80.91 369.66 81.07 369.03 81.22 370.01 81.37 370.13 81.52 369.44 81.79 370.01 81.83 369.77 82.17 370.56 82.29 370.23 82.44 370.46 82.55 369.94 82.59 370.22 82.74 369.24 82.90 370.53 82.93 370.06 83.11 370.64 83.20 370.06 83.35 371.57 83.49 370.29 83.51 370.78 83.66 370.12 83.68 370.87 83.81 371.11 83.87 370.19 83.96 371.13 84.12 370.32 84.27 370.92 84.42 370.92 84.44 370.67 84.58 371.30 84.82 370.31 84.88 371.26 85.01 371.52 85.03 370.96 85.19 371.41 85.20 371.18 85.34 371.29 85.38 370.95 85.49 371.63 85.57 371.47 85.64 372.35 85.80 371.00 86.10 372.08 86.14 371.48 86.33 372.17 86.41 371.56 86.52 371.75 86.56 371.59 86.71 372.14 86.71 371.32 87.02 372.23 87.17 371.82 87.28 372.26 87.32 371.81 87.47 372.04 87.48 371.78 87.63 372.03 87.78 373.04 87.93 372.17 88.39 372.97 88.41 372.18 88.70 373.23 88.85 372.34 89.00 373.15 89.17 372.48 89.36 372.78 89.46 372.70 89.55 372.95 89.61 372.90 89.74 373.49 89.76 372.71 89.92 373.22 89.93 372.60 90.07 374.07 90.11 373.14 90.22 373.09 90.30 373.58 90.49 373.29 90.68 373.82 90.87 373.27 90.99 373.73 91.14 373.76 91.25 373.52 91.29 374.26 91.44 374.42 91.44 373.92 91.60 374.41 91.82 373.96 91.90 374.53 92.01 373.93 92.05 374.84 92.20 374.10 92.21 374.84 92.36 374.81 92.39 374.15 92.57 374.73 92.76 374.38 92.95 374.64 92.97 374.27 93.12 374.95 93.28 374.95 93.33 374.39 93.43 374.49 93.52 374.43 93.58 374.91 93.71 375.01 93.73 374.67 93.89 375.17 93.90 374.76 94.04 374.85 94.09 375.37 94.19 375.20 94.28 375.25 94.47 374.40 94.66 376.17 94.80 375.37 94.95 375.88 95.03 375.28 95.11 376.12 95.26 375.60 95.41 376.15 95.41 375.42 95.56 375.42 95.60 376.28 95.72 376.34 95.79 375.68 95.98 376.39 96.02 376.09 96.17 376.11 96.33 375.84 96.36 376.01 96.48 375.58 96.63 376.03 96.79 375.88 96.93 376.15 96.94 376.83 97.24 375.98 97.30 376.54 97.40 376.43 97.49 376.54 97.55 376.10 97.70 376.84 97.85 376.71 97.87 376.98 98.01 376.83 98.16 376.86 98.25 376.33 98.31 377.17 98.44 377.07 98.46 377.17 98.62 376.93 98.63 377.58 98.92 377.12 99.20 377.73 99.23 377.27 99.38 377.02 99.39 377.41 99.57 377.45 99.69 377.98 99.95 377.68 100.14 378.29 100.14 377.48 100.30 377.35 100.33 378.04 100.60 377.80 100.71 378.64 100.75 377.59 100.90 378.38 100.91 377.78 101.09 378.44 101.21 378.41 101.28 378.08 101.36 378.73 101.52 378.67 101.66 379.16 101.67 378.12 101.85 378.66 101.97 378.31 102.03 379.07 102.22 378.23 102.43 380.08 102.60 378.64 102.74 379.23 102.89 378.93 102.98 379.49 103.17 379.00 103.35 379.22 103.36 379.57 103.50 379.25 103.55 379.60 103.74 378.65 103.93 380.38 104.12 379.35 104.26 379.41 104.30 380.08 104.42 380.13 104.49 379.46 104.57 380.31 104.68 379.61 104.72 380.08 104.87 379.81 105.06 379.88 105.18 380.56 105.25 380.15 105.33 380.29 105.44 380.24 105.49 379.94 105.64 380.69 105.79 380.76 105.94 380.32 106.01 380.90 106.10 380.26 106.39 381.26 106.40 380.72 106.55 380.64 106.58 381.50 106.71 380.54 106.76 380.41 106.86 380.91 106.95 380.90 107.01 380.26 107.16 381.48 107.32 381.25 107.47 381.37 107.52 382.16 107.62 381.13 107.71 381.65 107.77 381.41 107.90 381.57 107.93 381.24 108.09 381.89 108.28 381.22 108.38 381.87 108.47 381.33 108.66 382.08 108.69 381.38 108.84 382.27 108.85 381.63 109.00 382.23 109.03 381.92 109.15 382.56 109.30 381.84 109.60 382.51 109.61 382.20 109.76 382.91 109.91 382.56 109.98 382.83 110.17 382.66 110.36 382.80 110.37 382.15 110.55 382.39 110.83 383.46 110.93 383.12 110.98 383.75 111.13 382.84 111.28 382.62 111.44 383.55 111.49 383.11 111.59 383.60 111.68 383.09 111.74 383.45 111.87 383.17 111.90 382.59 112.05 383.24 112.06 382.76 112.25 383.77 112.44 383.16 112.51 383.98 112.63 383.82 112.66 384.36 112.82 383.63 113.12 384.58 113.27 383.89 113.57 384.76 113.58 383.71 113.73 384.42 113.88 384.22 113.95 385.26 114.03 384.57 114.14 384.65 114.33 384.23 114.49 385.42 114.52 384.91 114.64 384.79 114.90 385.57 114.95 384.82 115.09 384.97 115.25 385.77 115.28 384.57 115.41 386.25 115.56 384.60 115.66 385.43 115.71 385.32 115.85 385.88 115.86 385.01 116.02 386.00 116.04 385.48 116.17 385.59 116.22 386.03 116.32 385.40 116.41 386.25 116.79 385.63 116.98 386.24 117.17 386.27 117.24 385.90 117.36 386.32 117.39 386.12 117.54 386.37 117.55 386.63 117.70 386.12 117.74 386.80 117.93 386.02 118.00 386.95 118.12 386.65 118.15 387.20 118.31 386.91 118.31 387.25 118.61 386.85 118.68 386.38 118.76 386.87 118.87 386.80 119.22 387.83 119.37 386.72 119.53 387.55 119.63 386.85 119.68 387.60 119.83 387.95 119.98 387.94 120.14 386.99 120.29 388.13 120.44 387.93 120.58 388.51 120.59 387.88 120.75 387.77 120.77 387.91 120.90 387.88 121.05 388.76 121.14 387.77 121.33 388.85 121.36 388.26 121.51 388.40 121.52 388.23 121.71 388.69 121.82 388.51 121.97 388.67 122.12 389.77 122.47 388.67 122.66 389.15 122.85 388.72 122.88 389.40 123.04 388.90 123.19 389.22 123.22 388.82 123.34 389.64 123.41 389.10 123.49 389.79 123.65 389.92 123.79 389.48 123.80 389.96 123.95 389.70 123.98 390.13 124.17 389.20 124.26 389.80 124.36 389.37 124.41 389.77 124.55 389.29 124.72 390.67 124.74 389.63 124.93 390.60 125.02 390.52 125.12 390.91 125.17 390.44 125.31 390.82 125.33 389.95 125.48 390.31 125.50 391.13 125.63 391.15 125.68 390.85 125.78 391.38 125.87 390.80 126.06 391.13 126.25 390.47 126.39 390.53 126.44 391.06 126.55 390.83 126.63 391.43 126.70 391.07 126.82 391.61 126.85 391.04 127.01 391.81 127.20 391.29 127.31 392.05 127.46 391.59 127.58 391.62 127.62 392.01 127.77 391.77 127.77 391.89 127.92 391.40 128.14 392.77 128.33 391.71 128.38 392.08 128.52 391.92 128.68 392.78 128.71 392.07 128.84 392.36 128.90 392.20 128.99 392.96 129.09 392.48 129.14 392.78 129.28 392.36 129.29 392.85 129.47 392.95 129.60 392.39 129.75 393.17 129.91 393.36 130.04 392.56 130.06 393.71 130.21 393.46 130.23 392.96 130.36 392.85 130.41 393.33 130.52 393.07 130.67 393.09 130.79 393.48 130.82 392.94 130.97 393.53 130.98 393.07 131.13 394.06 131.17 393.38 131.28 394.20 131.36 394.33 131.43 393.68 131.55 394.21 131.58 393.78 131.74 394.39 131.74 393.47 131.93 394.52 132.12 393.93 132.19 394.55 132.35 393.66 132.50 394.46 132.65 394.74 132.68 394.36 132.87 395.72 132.96 394.95 133.06 395.15 133.11 394.20 133.26 395.23 133.42 395.38 133.44 394.82 133.57 395.35 133.72 395.19 134.01 395.28 134.03 394.88 134.18 394.83 134.20 396.00 134.33 394.61 134.39 395.49 134.48 395.16 134.58 395.91 134.64 395.57 134.79 395.73 134.94 395.57 135.09 396.30 135.25 395.79 135.71 396.76 135.86 395.85 135.90 396.56 136.01 396.46 136.09 396.80 136.16 396.13 136.28 396.04 136.32 396.75 136.47 396.58 136.47 397.02 136.62 396.24 136.77 397.23 136.85 396.55 137.23 397.44 137.38 397.09 137.54 397.72 137.60 396.73 137.69 397.56 137.84 397.82 137.99 397.33 138.15 397.68 138.17 397.48 138.30 398.37 138.36 398.02 138.45 398.11 138.60 397.87 138.74 398.83 138.76 397.05 138.91 398.52 138.93 398.12 139.12 398.05 139.31 399.47 139.50 398.32 139.69 399.51 139.83 398.36 139.98 399.19 140.13 399.01 140.25 399.43 140.28 399.16 140.59 398.82 140.63 399.27 140.74 399.51 140.82 399.26 141.01 399.95 141.05 399.14 141.20 399.76 141.20 399.59 141.35 399.50 141.39 400.13 141.50 399.60 141.66 399.95 141.77 399.85 141.96 400.87 141.96 400.20 142.12 400.52 142.15 399.92 142.33 400.52 142.52 399.98 142.88 400.77 143.03 400.57 143.09 400.85 143.18 400.76 143.34 401.54 143.47 401.63 143.64 400.69 143.85 401.82 143.95 401.07 144.10 401.91 144.23 401.15 144.25 401.48 144.40 401.17 144.42 401.52 144.56 401.42 144.71 402.16 144.79 401.96 144.86 402.16 144.98 401.71 145.02 402.37 145.17 402.65 145.17 401.88 145.36 401.74 145.55 402.88 145.78 402.51 145.93 403.35 145.93 402.61 146.08 402.61 146.12 403.05 146.31 402.43 146.39 402.88 146.50 402.60 146.85 403.32 146.88 402.78 147.06 403.57 147.15 403.15 147.25 403.71 147.30 403.34 147.44 403.21 147.46 403.56 147.61 403.65 147.63 403.38 147.76 403.52 147.82 404.36 147.91 404.34 148.01 403.48 148.20 404.79 148.37 404.17 148.39 404.53 148.53 404.12 148.58 404.29 148.68 404.21 148.77 404.84 148.96 403.88 148.98 404.86 149.14 404.23 149.44 405.28 149.59 404.72 149.75 404.66 149.90 404.85 150.09 405.73 150.28 405.26 150.47 406.09 150.51 405.77 150.66 406.20 150.66 405.64 150.81 406.16 150.85 405.87 150.97 405.78 151.04 405.89 151.12 405.52 151.27 406.85 151.43 405.71 151.58 405.81 151.61 406.22 151.73 406.22 151.88 406.96 152.04 406.44 152.17 406.90 152.19 406.05 152.34 407.35 152.49 406.53 152.55 407.17 152.74 407.56 152.93 406.69 153.12 407.52 153.26 407.14 153.41 407.86 153.69 407.32 153.71 407.77 153.87 407.68 153.88 407.16 154.06 408.42 154.17 407.72 154.48 408.39 154.63 408.20 154.63 408.50 154.78 408.21 154.82 408.92 155.01 408.60 155.09 408.86 155.20 408.53 155.24 408.82 155.39 409.09 155.39 408.83 155.55 409.20 155.58 409.58 155.96 409.27 156.00 409.02 156.15 409.24 156.16 408.82 156.31 409.10 156.34 409.63 156.46 409.08 156.61 409.92 156.77 409.49 156.90 409.88 156.92 409.62 157.09 409.85 157.23 410.30 157.28 410.10 157.38 410.42 157.47 410.13 157.53 410.99 157.68 410.08 157.85 410.64 157.99 410.54 158.04 411.06 158.14 411.13 158.29 411.00 158.42 410.70 158.45 411.37 158.60 410.82 158.61 411.72 158.90 410.99 159.06 412.24 159.17 411.43 159.36 412.09 159.51 412.07 159.67 411.71 159.74 412.50 159.82 411.26 159.97 412.29 160.12 412.03 160.12 412.23 160.28 411.57 160.43 412.62 160.69 412.80 160.74 412.48 160.88 413.04 160.89 412.27 161.07 413.01 161.19 412.72 161.25 413.78 161.44 413.03 161.50 413.27 161.63 413.38 161.65 413.25 161.82 413.58 162.01 414.31 162.11 413.29 162.20 414.12 162.39 413.45 162.57 414.25 162.72 414.21 162.77 414.55 162.87 414.11 163.02 414.37 163.33 414.00 163.48 415.35 163.52 414.48 163.71 415.43 163.79 414.74 163.90 415.32 164.09 414.85 164.09 415.45 164.25 415.64 164.40 415.02 164.55 416.10 164.85 415.12 164.86 415.49 165.01 415.62 165.04 415.52 165.16 416.14 165.23 415.91 165.31 415.98 165.42 416.56 165.47 416.27 165.61 416.17 165.62 416.75 165.80 416.10 166.17 416.02 166.36 416.65 166.74 415.88 167.12 416.65 167.50 415.89 167.69 416.41 167.88 416.25 168.07 415.49 168.25 416.39 168.44 416.42 168.63 416.73 168.82 416.61 169.01 415.87 169.39 416.79 169.58 416.71 169.96 416.12 170.15 416.64 170.34 416.14 170.53 416.55 170.71 416.26 171.09 416.17 171.28 416.53 171.66 416.21 171.85 416.84 172.04 416.33 172.42 416.03 172.61 416.40 172.80 416.45 172.98 416.34 173.17 416.64 173.55 416.25 173.74 416.29 173.93 416.75 174.12 416.51 174.31 417.13 174.50 416.12 174.69 416.58 174.88 416.31 175.07 416.78 175.63 416.06 175.82 416.87 176.01 416.11 176.39 416.67 176.58 416.23 176.77 416.50 177.15 416.64 177.34 416.32 177.71 416.46 177.90 416.72 178.47 415.87 178.66 416.23 178.85 415.59 179.04 415.85 179.23 415.89 179.42 414.84 179.61 414.84 179.99 412.89 180.17 412.84 180.36 412.40 180.55 411.39 180.74 412.29 181.12 413.01 181.61 414.74 181.61 448.02 181.69 446.91 181.88 448.21 182.07 448.55 182.26 448.22 182.63 449.06 182.82 448.60 183.01 449.09 183.20 448.95 183.39 449.24 183.77 448.58 183.96 448.68 184.34 448.40 184.72 448.95 184.90 448.82 185.09 448.15 185.28 448.71 185.47 448.61 185.66 448.75 186.04 448.57 186.61 448.99 186.80 449.01 186.99 448.58 187.36 448.40 187.74 449.00 187.93 448.50 188.12 448.51 188.31 449.24 188.50 448.44 188.69 448.52 188.88 448.14 189.07 449.11 189.26 449.16 189.45 448.45 189.63 449.34 189.82 448.97 190.20 449.07 190.39 449.38 190.77 448.38 190.96 448.56 191.15 448.56 191.34 448.84 191.53 448.22 191.72 448.53 191.90 448.35 192.09 449.25 192.28 448.60 192.47 449.11 192.66 448.60 192.85 448.65 193.04 449.10 193.42 448.31 193.61 448.54 193.80 448.51 193.99 449.01 194.18 448.95 194.36 449.10 194.74 448.30 195.31 449.10 195.50 448.56 195.88 449.36 196.07 449.29 196.26 448.80 196.45 448.96 196.63 448.05 197.01 448.86 197.20 448.58 197.39 447.75 197.58 448.50 197.77 447.78 197.96 447.77 198.15 447.30 198.53 447.82 198.72 447.49 198.91 447.70 199.09 447.47 199.28 447.94 199.47 447.36 199.66 448.21 199.85 448.15 200.04 448.63 200.23 448.45 200.32 448.52 200.32 474.89 200.42 474.67 200.61 475.22 200.80 477.10 200.99 476.44 201.18 476.94 201.36 477.08 201.55 476.46 201.74 476.59 201.93 477.77 202.31 476.59 202.50 476.57 202.69 477.04 202.88 476.32 203.07 477.13 203.45 476.81 203.64 476.86 204.01 476.51 204.20 476.87 204.39 476.38 204.58 477.09 204.77 476.93 204.96 476.26 205.15 476.82 205.34 476.49 205.53 477.00 206.09 476.80 206.28 476.97 206.85 476.44 207.04 476.82 207.42 476.54 207.61 477.23 207.80 477.40 207.99 476.30 208.18 476.40 208.37 476.83 208.55 476.73 208.93 477.33 209.12 476.74 209.31 477.37 209.50 474.81 209.69 475.36 210.07 474.45 210.26 474.47 210.45 475.21 210.64 474.75 210.82 475.48 211.39 474.64 211.58 475.32 211.77 474.93 211.96 475.09 212.15 475.56 212.53 474.60 212.72 475.15 213.10 474.84 213.28 475.38 213.47 474.70 213.85 474.57 214.04 474.67 214.23 475.28 214.80 475.44 214.99 475.40 215.18 474.78 215.37 474.62 215.55 475.35 215.74 474.84 215.93 475.56 216.12 475.24 216.50 475.69 216.69 475.11 216.88 475.10 217.45 475.47 217.64 475.17 217.83 475.33 218.01 475.04 218.20 475.54 218.39 475.05 218.77 474.70 218.96 474.76 219.53 475.76 219.91 474.64 220.10 474.55" fill="none" stroke="#ff1a00" stroke-width="1.6" stroke-linejoin="round" stroke-linecap="square"/>
<rect x="41.5" y="354.90" width="187.10" height="128.50" fill="none" stroke="#4a4a4a" stroke-width="0.85"/>
<path d="M50.00 483.40 v2.9 M92.53 483.40 v2.9 M135.05 483.40 v2.9 M177.57 483.40 v2.9 M220.10 483.40 v2.9" stroke="#3a3a3a" stroke-width="0.75"/>
<text x="50.00" y="497.15" font-size="12" text-anchor="middle">&#8722;20</text>
<text x="92.53" y="497.15" font-size="12" text-anchor="middle">&#8722;10</text>
<text x="135.05" y="497.15" font-size="12" text-anchor="middle">0</text>
<text x="177.57" y="497.15" font-size="12" text-anchor="middle">10</text>
<text x="220.10" y="497.15" font-size="12" text-anchor="middle">20</text>
<path d="M41.50 371.45 h-3.5 M41.50 406.11 h-3.5 M41.50 440.77 h-3.5 M41.50 475.43 h-3.5" stroke="#222" stroke-width="0.8"/>
<path d="M41.50 483.12 h-2 M41.50 480.80 h-2 M41.50 478.79 h-2 M41.50 477.02 h-2 M41.50 465.00 h-2 M41.50 458.89 h-2 M41.50 454.56 h-2 M41.50 451.20 h-2 M41.50 448.46 h-2 M41.50 446.14 h-2 M41.50 444.13 h-2 M41.50 442.36 h-2 M41.50 430.34 h-2 M41.50 424.23 h-2 M41.50 419.90 h-2 M41.50 416.54 h-2 M41.50 413.80 h-2 M41.50 411.48 h-2 M41.50 409.47 h-2 M41.50 407.70 h-2 M41.50 395.68 h-2 M41.50 389.57 h-2 M41.50 385.24 h-2 M41.50 381.88 h-2 M41.50 379.14 h-2 M41.50 376.82 h-2 M41.50 374.81 h-2 M41.50 373.04 h-2 M41.50 361.02 h-2 M41.50 354.91 h-2" stroke="#222" stroke-width="0.6"/>
<text x="35.75" y="375.35" font-size="12" text-anchor="end">1<tspan dx="-0.9">0</tspan><tspan dy="-3.9" font-size="8.4">0</tspan></text>
<text x="35.75" y="410.01" font-size="12" text-anchor="end">1<tspan dx="-0.9">0</tspan><tspan dy="-3.9" font-size="8.4">&#8722;1</tspan></text>
<text x="35.75" y="444.67" font-size="12" text-anchor="end">1<tspan dx="-0.9">0</tspan><tspan dy="-3.9" font-size="8.4">&#8722;2</tspan></text>
<text x="35.75" y="479.33" font-size="12" text-anchor="end">1<tspan dx="-0.9">0</tspan><tspan dy="-3.9" font-size="8.4">&#8722;3</tspan></text>
<rect x="46.30" y="439.60" width="96.3" height="38.6" rx="1.5" fill="#ffffff" fill-opacity="0.85" stroke="#dcdcdc" stroke-width="0.75"/>
<path d="M49.25 446.45 h20.7" stroke="#000000" stroke-width="1.6"/>
<path d="M49.25 465.55 h20.7" stroke="#ff1a00" stroke-width="1.6"/>
<text x="76.40" y="449.70" font-size="9.5" text-anchor="start">GT</text>
<text x="76.40" y="462.95" font-size="9.5" text-anchor="start">Baseline</text>
<text x="76.40" y="472.75" font-size="9.5" text-anchor="start">(RL2=5.36e-02)</text>
<path d="M277.45 354.90 V483.40 M319.98 354.90 V483.40 M362.50 354.90 V483.40 M405.02 354.90 V483.40 M447.55 354.90 V483.40 M268.95 371.45 H456.05 M268.95 406.48 H456.05 M268.95 441.51 H456.05 M268.95 476.54 H456.05" stroke="#e0e0e0" stroke-width="0.55" stroke-dasharray="2.1 1.4" fill="none"/>
<path d="M277.45 360.98 294.89 360.98 299.61 363.38 305.23 366.35 310.74 369.37 316.13 372.44 321.31 375.52 326.36 378.65 331.31 381.84 336.14 385.09 340.75 388.33 345.25 391.63 349.63 394.98 353.90 398.41 358.06 401.89 362.11 405.44 366.04 409.06 369.87 412.75 373.46 416.40 384.70 416.40 384.70 449.03 398.01 449.03 398.01 476.24 447.55 476.24" fill="none" stroke="#000000" stroke-width="1.2" stroke-linejoin="round" stroke-linecap="square"/>
<path d="M277.45 360.98 294.29 360.98 294.48 360.18 294.86 361.12 294.89 360.66 295.00 360.56 295.05 360.86 295.23 360.98 295.24 361.47 295.43 360.69 295.45 361.61 295.62 361.05 295.68 361.85 295.79 361.48 295.81 362.03 295.90 361.70 296.00 362.03 296.01 361.86 296.24 361.73 296.35 362.56 296.37 361.17 296.56 362.21 296.69 361.78 296.75 362.27 296.80 362.09 296.91 362.17 296.94 361.83 297.02 362.32 297.13 361.95 297.25 362.22 297.32 361.77 297.47 362.70 297.51 362.20 297.70 362.42 297.81 361.64 297.89 362.42 298.04 362.66 298.08 362.14 298.27 363.12 298.46 362.53 298.49 363.36 298.71 362.56 298.82 363.44 298.94 362.74 299.21 363.64 299.27 363.19 299.39 363.16 299.40 363.77 299.59 362.99 299.61 363.31 299.72 363.11 299.78 363.66 299.83 363.02 299.95 363.83 299.97 362.91 300.17 363.99 300.28 363.88 300.40 364.03 300.51 363.97 300.62 363.60 300.73 364.08 300.73 363.54 300.85 364.38 300.96 364.48 301.07 363.93 301.10 364.70 301.18 364.69 301.30 363.66 301.41 363.85 301.48 364.88 301.63 364.15 301.75 365.06 301.86 364.68 301.86 365.15 301.97 365.05 302.05 363.90 302.20 365.25 302.31 364.63 302.42 365.07 302.43 364.66 302.53 365.14 302.65 364.89 302.81 365.73 303.00 365.23 303.19 365.28 303.21 365.09 303.32 365.64 303.43 364.69 303.56 365.39 303.66 365.07 303.99 366.10 304.13 365.35 304.22 366.18 304.33 365.79 304.51 366.23 304.56 366.13 304.67 366.74 304.89 365.43 305.01 366.35 305.12 365.69 305.23 365.79 305.46 366.98 305.46 366.59 305.57 366.59 305.65 366.83 305.68 365.99 305.79 367.31 305.83 366.72 305.91 366.57 306.02 366.62 306.02 366.19 306.13 367.33 306.24 366.86 306.47 367.29 306.58 366.70 306.59 367.45 306.80 366.60 306.97 367.59 307.16 367.79 307.35 367.05 307.59 368.04 307.70 367.27 307.73 368.41 307.82 367.66 307.92 368.32 307.93 368.19 308.04 368.40 308.27 367.04 308.29 368.38 308.38 368.45 308.48 367.92 308.67 368.94 308.72 367.75 308.94 368.59 309.05 368.22 309.05 368.64 309.16 368.49 309.24 368.61 309.28 368.13 309.39 368.79 309.50 368.31 309.73 368.90 309.81 368.53 309.84 369.11 310.00 368.26 310.19 369.50 310.29 369.08 310.40 369.76 310.51 369.53 310.56 369.67 310.63 369.02 310.74 369.90 310.75 368.84 310.85 369.71 310.96 369.28 311.08 369.50 311.13 369.36 311.30 370.50 311.32 369.79 311.41 370.36 311.53 369.50 311.75 370.36 311.89 370.10 311.98 370.64 312.08 370.04 312.09 370.53 312.20 370.14 312.27 370.41 312.31 369.93 312.54 370.44 312.65 369.98 312.83 370.52 312.99 370.10 313.02 371.25 313.10 370.53 313.21 371.10 313.21 370.31 313.44 371.29 313.66 370.44 313.77 371.54 313.89 369.78 314.16 372.24 314.22 370.78 314.35 371.92 314.45 371.06 314.56 371.90 314.67 371.42 314.79 371.82 314.90 371.75 315.01 372.30 315.12 371.40 315.48 372.39 315.57 371.50 315.67 372.38 315.68 372.04 315.80 372.25 315.86 372.78 315.91 371.63 316.05 372.67 316.13 372.40 316.36 372.91 316.43 372.42 316.58 373.19 316.62 372.36 316.81 373.22 316.81 372.71 316.92 372.75 317.00 372.30 317.03 373.27 317.15 372.73 317.19 373.09 317.26 372.88 317.37 373.26 317.48 373.06 317.60 374.04 317.71 373.37 317.75 373.55 317.93 373.27 317.94 373.58 318.05 373.14 318.13 373.63 318.27 373.40 318.38 373.79 318.49 373.78 318.51 374.10 318.61 374.10 318.72 373.67 318.83 374.17 318.94 373.41 319.06 373.40 319.08 374.16 319.17 373.85 319.27 374.06 319.39 374.06 319.46 374.20 319.51 374.13 319.65 374.59 319.84 374.44 319.84 374.19 319.96 374.55 320.07 374.25 320.18 375.15 320.29 374.70 320.41 375.31 320.52 374.67 320.63 375.44 320.74 374.49 320.78 375.63 320.86 375.23 320.97 375.53 321.08 375.16 321.16 375.70 321.19 375.47 321.31 375.55 321.35 375.88 321.42 375.16 321.64 375.94 321.75 375.72 321.87 376.00 321.92 375.43 321.98 376.80 322.09 376.73 322.11 376.08 322.20 376.70 322.29 376.13 322.32 376.35 322.54 375.80 322.77 376.21 322.86 376.08 323.05 377.01 323.22 376.50 323.24 377.52 323.33 376.68 323.43 377.06 323.44 376.55 323.62 377.18 323.67 376.94 323.78 377.81 323.89 376.92 324.00 377.80 324.00 376.85 324.12 377.27 324.19 377.21 324.23 377.79 324.34 377.15 324.56 377.85 324.57 377.23 324.68 377.13 324.90 377.92 324.94 377.68 325.13 377.80 325.13 376.86 325.32 378.17 325.35 377.70 325.46 378.44 325.58 377.85 325.69 378.37 325.80 378.59 325.89 378.27 325.91 378.57 326.03 377.80 326.25 379.04 326.27 377.84 326.65 378.95 326.70 378.17 326.84 379.41 326.93 379.20 327.02 379.94 327.04 378.81 327.15 378.84 327.26 378.45 327.38 379.53 327.49 378.98 327.60 379.58 327.82 379.06 328.16 380.03 328.50 379.52 328.72 380.53 328.73 379.93 328.84 379.79 328.92 380.71 329.11 380.74 329.17 380.52 329.29 380.82 329.30 380.36 329.40 380.99 329.48 380.67 329.62 381.05 329.67 380.38 329.74 380.78 329.85 380.67 329.86 380.99 329.96 380.69 330.05 380.78 330.19 381.70 330.24 380.83 330.62 381.30 330.64 381.73 330.81 381.38 330.97 381.94 331.00 380.96 331.31 382.74 331.53 381.52 331.57 382.71 331.75 381.44 331.76 381.88 331.87 382.04 331.94 381.82 331.98 382.31 332.10 382.40 332.21 382.11 332.32 382.86 332.32 381.95 332.43 383.17 332.55 381.56 332.77 383.14 332.88 382.97 332.89 383.12 333.00 383.08 333.11 382.40 333.22 382.78 333.27 382.57 333.33 383.34 333.45 382.72 333.46 383.05 333.56 382.83 333.65 383.52 333.78 382.99 334.01 383.86 334.12 383.52 334.21 383.51 334.23 383.97 334.34 383.97 334.40 383.74 334.46 384.31 334.57 383.67 334.78 385.00 334.79 384.72 334.97 384.49 335.02 384.70 335.13 384.27 335.35 385.26 335.36 384.06 335.58 384.94 335.73 384.56 335.81 384.78 335.92 384.60 335.92 385.00 336.03 384.32 336.11 385.73 336.26 384.83 336.48 385.95 336.48 384.91 336.59 386.07 336.67 385.28 336.71 385.42 336.86 385.08 336.93 385.89 337.04 386.00 337.05 385.84 337.15 386.40 337.24 385.57 337.43 386.39 337.49 386.03 337.72 386.58 337.81 385.90 337.94 387.25 338.00 386.17 338.17 386.82 338.19 385.65 338.38 387.13 338.50 386.61 338.57 386.87 338.62 386.39 338.73 386.53 338.76 387.20 338.94 386.83 338.95 387.21 339.07 387.31 339.13 386.88 339.29 387.79 339.32 387.52 339.51 387.50 339.52 387.71 339.63 387.07 339.70 387.93 339.85 387.63 339.89 388.52 340.08 387.64 340.08 388.33 340.19 388.24 340.27 387.62 340.53 388.42 340.64 388.15 340.65 388.34 340.75 387.47 340.86 388.54 341.03 388.52 341.09 389.07 341.20 388.95 341.21 388.14 341.31 389.23 341.43 388.47 341.54 388.38 341.59 389.30 341.65 388.47 341.76 389.19 341.78 388.50 341.97 389.32 341.99 388.97 342.10 389.11 342.16 389.62 342.21 388.64 342.54 390.27 342.78 389.18 343.00 390.40 343.11 389.94 343.22 390.91 343.30 389.73 343.34 389.81 343.45 389.50 343.49 390.64 343.56 390.36 343.67 390.46 343.67 390.93 343.79 390.84 343.86 390.95 343.90 390.45 344.01 390.56 344.05 390.27 344.24 391.37 344.24 390.73 344.43 390.79 344.46 390.61 344.57 391.34 344.62 390.88 344.69 391.57 344.81 391.06 344.91 391.42 345.00 391.37 345.02 391.95 345.19 391.54 345.25 392.06 345.36 392.02 345.38 390.88 345.59 392.25 345.70 391.49 345.76 393.00 345.92 391.94 345.94 392.38 346.04 392.07 346.13 392.70 346.15 392.35 346.48 392.59 346.51 392.23 346.60 392.78 346.70 392.97 346.71 392.87 346.82 392.97 346.93 393.62 347.05 393.51 347.08 392.96 347.16 393.35 347.27 393.35 347.27 392.20 347.50 393.60 347.61 392.98 347.65 393.77 347.72 393.12 347.83 393.43 347.84 393.15 347.95 393.98 348.03 393.47 348.06 394.44 348.22 393.55 348.40 394.71 348.40 393.84 348.62 394.50 348.73 394.43 348.78 394.57 348.85 394.09 348.96 394.34 348.97 394.14 349.16 395.12 349.30 394.02 349.35 395.20 349.41 394.76 349.54 395.27 349.73 394.79 349.86 395.05 349.92 394.93 349.97 395.87 350.08 395.10 350.31 395.86 350.42 395.25 350.53 396.26 350.64 395.83 350.67 396.06 350.76 395.94 350.86 395.48 350.87 396.06 350.98 396.05 351.05 395.36 351.09 396.68 351.24 395.90 351.43 395.67 351.43 396.69 351.54 396.33 351.81 397.27 351.88 396.70 351.99 396.64 352.00 397.28 352.11 396.73 352.33 398.10 352.38 396.82 352.67 397.90 352.76 397.33 352.78 397.56 352.89 397.44 353.12 398.36 353.13 397.67 353.23 398.49 353.34 397.67 353.45 398.53 353.51 397.89 353.57 398.15 353.68 398.07 353.70 398.50 353.89 398.28 353.90 397.79 354.13 399.07 354.24 398.59 354.27 398.97 354.46 398.79 354.47 398.55 354.69 399.09 354.80 398.69 354.84 399.50 355.03 398.86 355.03 399.42 355.14 399.15 355.22 399.19 355.25 398.84 355.40 400.24 355.48 399.72 355.59 399.71 355.59 399.53 355.70 399.77 355.78 399.31 356.04 400.93 356.15 399.68 356.16 400.35 356.35 401.03 356.49 400.44 356.71 401.01 356.73 400.10 356.92 401.48 356.94 401.17 357.11 401.17 357.28 401.68 357.39 401.24 357.49 401.96 357.50 400.78 357.61 400.97 357.68 402.27 357.95 401.23 358.05 402.61 358.24 401.92 358.29 402.53 358.40 402.09 358.51 402.09 358.62 402.89 358.63 402.37 358.81 402.74 358.85 402.16 358.96 402.83 359.00 402.24 359.07 403.03 359.19 402.31 359.30 403.30 359.41 402.99 359.52 403.55 359.57 402.96 359.75 403.70 359.86 403.17 359.97 403.84 360.09 403.10 360.13 404.07 360.31 403.48 360.42 404.63 360.54 404.12 360.65 404.24 360.70 403.99 360.87 404.31 361.08 404.10 361.10 405.23 361.21 403.88 361.27 404.90 361.32 404.47 361.44 405.43 361.46 405.05 361.55 405.40 361.65 404.65 362.00 405.68 362.03 405.59 362.11 405.72 362.22 405.25 362.33 406.11 362.41 405.59 362.56 405.36 362.59 406.08 362.78 405.32 362.78 406.17 362.90 406.29 362.97 406.05 363.01 406.44 363.12 406.36 363.23 406.75 363.35 406.26 363.46 407.03 363.68 406.77 363.80 406.35 364.02 407.84 364.13 407.11 364.47 408.14 364.58 407.04 364.68 408.21 364.70 407.24 364.87 408.47 364.92 407.83 365.03 407.87 365.14 408.34 365.24 407.74 365.26 408.45 365.37 408.23 365.43 408.28 365.59 409.32 365.81 408.75 365.82 409.51 366.00 408.51 366.04 409.73 366.16 409.04 366.27 409.03 366.38 409.93 366.38 409.30 366.49 410.02 366.57 409.12 366.61 409.94 366.72 409.60 366.94 410.50 366.95 409.85 367.06 409.84 367.14 410.14 367.17 409.59 367.28 410.14 367.32 410.04 367.39 410.20 367.51 409.82 367.51 410.73 367.70 410.76 367.73 410.48 367.84 410.72 367.89 410.56 368.07 411.21 368.18 410.98 368.27 412.04 368.29 410.75 368.40 411.55 368.52 411.37 368.65 412.10 368.84 411.27 368.97 411.45 369.03 412.15 369.22 411.60 369.42 413.02 369.53 411.93 369.60 413.05 369.78 411.52 369.87 412.70 369.97 412.91 369.98 412.71 370.09 412.80 370.16 412.57 370.35 414.00 370.43 413.21 370.54 413.67 370.54 412.92 370.65 414.01 370.73 413.54 370.88 414.08 370.92 413.20 370.99 413.81 371.10 414.05 371.11 413.73 371.21 414.38 371.30 414.32 371.33 414.44 371.44 413.61 371.49 414.26 371.66 414.15 371.87 415.35 371.89 414.61 372.05 415.10 372.11 414.58 372.23 415.77 372.24 414.99 372.34 415.74 372.43 415.75 372.56 414.99 372.62 415.96 372.79 416.14 372.81 415.00 373.00 415.78 373.01 415.19 373.19 416.88 373.24 416.35 373.35 416.72 373.38 415.58 373.46 416.92 373.57 416.29 373.76 416.59 374.14 416.39 374.33 416.45 374.70 416.85 374.89 416.64 375.08 416.78 375.27 416.73 375.46 416.36 375.65 416.46 375.84 416.23 376.03 416.49 376.22 415.70 376.41 416.67 376.60 416.77 376.78 416.03 376.97 416.66 377.35 416.05 377.54 416.44 377.73 416.53 377.92 416.05 378.49 416.84 378.68 416.54 378.87 417.01 379.06 416.72 379.24 416.80 379.43 416.30 379.62 416.13 379.81 416.64 380.00 416.57 380.38 416.91 380.76 416.20 381.14 416.19 381.33 416.51 381.51 417.40 381.70 416.07 381.89 415.93 382.08 416.07 382.46 415.97 382.65 415.33 382.84 416.03 383.03 415.28 383.60 414.48 383.79 414.43 383.97 414.93 384.16 414.77 384.54 416.37 384.70 416.43 384.70 449.22 384.73 448.24 384.92 451.85 385.11 451.77 385.30 452.27 385.49 452.21 385.68 451.45 385.87 451.92 386.06 451.75 386.24 451.17 386.43 448.27 386.62 448.78 387.19 449.13 387.38 448.29 387.57 449.47 387.76 449.06 387.95 449.73 388.33 448.88 388.70 448.91 389.08 449.29 389.46 449.17 389.65 448.63 389.84 448.50 390.41 449.37 390.60 448.92 390.79 449.11 390.97 449.69 391.16 448.53 391.35 449.03 391.73 449.35 391.92 449.35 392.11 448.70 392.30 449.37 392.87 448.36 393.06 448.81 393.43 449.19 393.62 448.72 393.81 448.66 394.00 449.18 394.19 448.82 394.57 449.62 395.14 448.50 395.70 449.26 395.89 448.73 396.08 448.60 396.27 448.85 396.84 444.68 397.03 443.78 397.22 443.56 397.41 444.14 397.79 447.43 397.98 448.39 398.01 447.76 398.01 475.18 398.16 476.38 398.35 476.81 398.54 476.92 398.73 476.47 399.11 477.37 399.30 477.19 399.49 478.28 399.87 476.92 400.06 476.98 400.25 478.06 400.43 476.86 400.62 477.09 400.81 476.95 401.00 477.36 401.19 477.29 401.38 477.68 401.76 476.96 401.95 477.63 402.14 477.16 402.33 477.48 402.52 476.91 402.71 476.93 402.89 478.15 403.08 477.12 403.27 476.92 403.46 477.49 403.84 477.34 404.03 477.71 404.41 476.72 404.60 477.11 404.79 476.73 404.98 476.93 405.16 476.85 405.35 477.24 405.73 476.55 406.30 477.54 406.49 477.62 406.68 477.20 406.87 477.13 407.06 477.96 407.25 476.16 407.62 476.13 407.81 476.44 408.00 475.40 408.38 476.74 408.76 475.95 409.71 476.40 409.89 476.61 410.08 476.03 410.27 477.25 410.65 475.79 410.84 476.53 411.03 476.68 411.22 475.56 411.79 476.46 411.98 476.34 412.35 476.34 412.54 476.52 412.73 476.06 413.11 476.91 413.49 476.25 413.87 477.16 414.06 475.71 414.44 476.43 414.62 476.45 415.00 475.76 415.19 476.49 415.38 476.11 415.57 476.49 415.76 476.14 416.14 476.93 416.33 476.23 416.52 476.29 416.71 476.00 416.90 476.51 417.08 475.77 417.27 476.23 417.46 475.70 417.65 476.39 417.84 475.72 418.03 476.29 418.41 475.91 418.60 476.91 418.79 476.65 418.98 475.60 419.17 476.81 419.73 475.73 419.92 476.45 420.11 476.22 420.30 476.67 420.68 475.89 421.06 476.27 421.25 476.11 421.63 476.20 422.00 476.62 422.19 476.02 422.38 476.68 422.76 475.49 422.95 475.71 423.14 475.42 423.33 476.64 423.52 476.17 423.71 476.56 423.90 476.52 424.08 476.88 424.27 476.70 424.46 475.94 424.65 476.00 424.84 475.82 425.03 475.84 425.22 475.97 425.41 476.54 425.98 475.80 426.17 476.38 426.54 476.40 426.73 475.67 427.30 476.52 427.49 476.09 427.68 476.85 427.87 476.32 428.25 476.45 428.63 476.09 428.81 475.14 429.00 476.20 429.19 475.99 429.57 476.84 429.76 475.83 429.95 475.53 430.14 476.60 430.52 475.83 430.90 477.10 431.09 475.87 431.27 476.29 431.46 475.97 431.65 476.58 431.84 475.92 432.03 475.86 432.22 476.49 432.41 476.06 432.60 476.46 432.79 476.41 432.98 476.56 433.17 476.39 433.36 476.48 433.54 475.81 433.92 476.64 434.11 475.74 434.30 476.04 434.49 475.88 434.68 476.26 434.87 475.98 435.25 476.57 435.44 476.19 435.82 476.18 436.00 475.93 436.19 476.85 436.38 476.12 436.57 476.52 436.95 476.07 437.33 476.47 437.52 475.95 437.71 476.25 438.09 475.78 438.46 476.62 438.84 475.93 439.41 476.83 439.60 476.56 439.79 476.56 439.98 476.00 440.17 476.20 440.36 475.91 440.55 476.25 440.73 475.62 440.92 476.21 441.11 476.02 441.30 476.36 441.68 475.83 441.87 475.94 442.06 475.76 442.25 476.43 442.63 475.60 442.82 476.12 443.38 476.40 443.76 475.72 444.52 476.62 444.71 475.36 444.90 476.38 445.09 476.18 445.28 476.39 445.46 476.16 445.65 476.37 446.03 475.70 446.22 476.48 446.41 476.03 446.60 476.24 446.79 475.96 446.98 476.46 447.17 476.08 447.55 476.87" fill="none" stroke="#ff1a00" stroke-width="1.6" stroke-linejoin="round" stroke-linecap="square"/>
<rect x="268.95" y="354.90" width="187.10" height="128.50" fill="none" stroke="#4a4a4a" stroke-width="0.85"/>
<path d="M277.45 483.40 v2.9 M319.98 483.40 v2.9 M362.50 483.40 v2.9 M405.02 483.40 v2.9 M447.55 483.40 v2.9" stroke="#3a3a3a" stroke-width="0.75"/>
<text x="277.45" y="497.15" font-size="12" text-anchor="middle">&#8722;20</text>
<text x="319.98" y="497.15" font-size="12" text-anchor="middle">&#8722;10</text>
<text x="362.50" y="497.15" font-size="12" text-anchor="middle">0</text>
<text x="405.02" y="497.15" font-size="12" text-anchor="middle">10</text>
<text x="447.55" y="497.15" font-size="12" text-anchor="middle">20</text>
<path d="M268.95 371.45 h-3.5 M268.95 406.48 h-3.5 M268.95 441.51 h-3.5 M268.95 476.54 h-3.5" stroke="#222" stroke-width="0.8"/>
<path d="M268.95 481.97 h-2 M268.95 479.93 h-2 M268.95 478.14 h-2 M268.95 465.99 h-2 M268.95 459.83 h-2 M268.95 455.45 h-2 M268.95 452.06 h-2 M268.95 449.28 h-2 M268.95 446.94 h-2 M268.95 444.90 h-2 M268.95 443.11 h-2 M268.95 430.96 h-2 M268.95 424.80 h-2 M268.95 420.42 h-2 M268.95 417.03 h-2 M268.95 414.25 h-2 M268.95 411.91 h-2 M268.95 409.87 h-2 M268.95 408.08 h-2 M268.95 395.93 h-2 M268.95 389.77 h-2 M268.95 385.39 h-2 M268.95 382.00 h-2 M268.95 379.22 h-2 M268.95 376.88 h-2 M268.95 374.84 h-2 M268.95 373.05 h-2 M268.95 360.90 h-2" stroke="#222" stroke-width="0.6"/>
<text x="263.20" y="375.35" font-size="12" text-anchor="end">1<tspan dx="-0.9">0</tspan><tspan dy="-3.9" font-size="8.4">0</tspan></text>
<text x="263.20" y="410.38" font-size="12" text-anchor="end">1<tspan dx="-0.9">0</tspan><tspan dy="-3.9" font-size="8.4">&#8722;1</tspan></text>
<text x="263.20" y="445.41" font-size="12" text-anchor="end">1<tspan dx="-0.9">0</tspan><tspan dy="-3.9" font-size="8.4">&#8722;2</tspan></text>
<text x="263.20" y="480.44" font-size="12" text-anchor="end">1<tspan dx="-0.9">0</tspan><tspan dy="-3.9" font-size="8.4">&#8722;3</tspan></text>
<rect x="354.60" y="359.70" width="96.3" height="38.6" rx="1.5" fill="#ffffff" fill-opacity="0.85" stroke="#dcdcdc" stroke-width="0.75"/>
<path d="M357.55 366.55 h20.7" stroke="#000000" stroke-width="1.6"/>
<path d="M357.55 385.65 h20.7" stroke="#ff1a00" stroke-width="1.6"/>
<text x="384.70" y="369.80" font-size="9.5" text-anchor="start">GT</text>
<text x="384.70" y="383.05" font-size="9.5" text-anchor="start">Baseline</text>
<text x="384.70" y="392.85" font-size="9.5" text-anchor="start">(RL2=2.57e-02)</text>
<path d="M504.95 354.90 V483.40 M547.48 354.90 V483.40 M590.00 354.90 V483.40 M632.52 354.90 V483.40 M675.05 354.90 V483.40 M496.45 371.30 H683.55 M496.45 406.25 H683.55 M496.45 441.20 H683.55 M496.45 476.15 H683.55" stroke="#e0e0e0" stroke-width="0.55" stroke-dasharray="2.1 1.4" fill="none"/>
<path d="M504.95 360.86 512.61 360.86 525.99 365.84 538.90 370.98 551.20 376.22 563.02 381.63 571.27 385.64 579.36 389.80 586.98 393.94 594.45 398.22 601.61 402.56 608.45 406.96 614.99 411.42 621.37 416.03 638.26 416.03 638.26 448.46 656.55 448.46 656.55 475.55 675.05 475.55" fill="none" stroke="#000000" stroke-width="1.2" stroke-linejoin="round" stroke-linecap="square"/>
<path d="M504.95 360.86 512.61 360.83 514.41 361.25 516.81 361.15 517.63 361.29 518.58 361.79 521.32 363.87 521.98 364.22 522.10 363.92 522.17 364.50 522.26 364.16 522.55 364.63 522.57 364.52 522.72 365.03 522.74 364.53 522.88 364.52 522.93 364.78 523.03 364.53 523.19 364.94 523.31 364.55 523.34 364.94 523.50 364.18 523.50 365.14 523.69 365.10 523.87 364.68 524.06 365.19 524.12 364.57 524.28 365.24 524.43 365.25 524.44 365.65 524.63 364.81 524.74 365.66 524.82 365.76 524.90 365.36 525.01 366.11 525.06 365.07 525.20 365.94 525.39 365.26 525.58 366.20 525.68 366.18 525.77 365.69 525.83 366.36 526.15 365.56 526.30 366.66 526.33 365.85 526.46 365.84 526.52 366.26 526.71 366.46 526.92 365.83 527.08 365.87 527.09 366.35 527.23 366.56 527.28 366.07 527.39 367.16 527.66 365.87 527.70 366.73 527.85 366.54 527.86 366.88 528.01 366.65 528.17 366.90 528.23 366.61 528.32 366.80 528.42 366.65 528.60 367.20 528.63 366.83 528.79 366.69 528.79 367.15 528.95 366.62 529.10 367.15 529.17 367.07 529.36 367.41 529.41 366.92 529.55 366.97 529.57 367.36 529.74 367.36 529.93 366.96 530.04 367.60 530.12 367.36 530.19 367.48 530.31 367.36 530.35 367.13 530.50 368.17 530.66 367.71 530.69 368.12 530.81 367.25 530.87 367.94 531.06 367.75 531.25 368.01 531.44 367.70 531.44 368.05 531.59 367.51 531.75 368.74 531.82 367.86 531.90 368.64 532.06 367.57 532.20 367.96 532.21 368.59 532.37 368.56 532.52 367.98 532.58 368.62 532.68 368.14 532.96 368.61 532.99 368.11 533.15 369.06 533.33 368.44 533.46 369.13 533.52 369.05 533.61 369.15 533.71 368.71 533.77 369.07 533.90 368.54 534.09 368.96 534.28 368.86 534.39 369.13 534.55 368.98 534.66 369.27 534.70 368.98 534.86 369.54 535.01 369.34 535.04 368.94 535.17 369.03 535.23 369.92 535.33 369.43 535.42 369.69 535.79 369.85 535.95 369.71 535.98 370.12 536.10 370.18 536.26 370.22 536.36 369.77 536.41 370.27 536.57 370.01 536.73 369.89 536.74 370.09 536.88 369.86 536.93 370.19 537.12 370.04 537.19 370.69 537.35 369.92 537.50 370.47 537.66 369.94 537.69 370.45 537.81 370.19 537.88 371.22 537.97 370.57 538.06 370.78 538.25 370.38 538.28 370.77 538.44 370.85 538.44 371.58 538.63 370.50 538.82 371.08 539.20 370.52 539.22 371.27 539.37 371.55 539.39 371.04 539.53 370.88 539.58 371.39 539.68 371.30 539.84 371.72 539.96 371.62 539.99 372.01 540.15 371.37 540.30 371.31 540.33 371.81 540.46 371.80 540.52 372.12 540.62 372.10 540.77 370.97 540.90 372.11 541.08 371.63 541.09 372.09 541.24 371.79 541.39 372.10 541.47 371.79 541.66 372.48 541.70 371.92 542.02 372.50 542.04 372.12 542.17 372.54 542.33 372.13 542.42 372.47 542.48 372.17 542.61 372.91 542.64 372.37 542.79 372.45 542.79 372.08 543.17 373.06 543.36 373.04 543.42 372.65 543.55 373.14 543.74 372.65 543.88 372.80 543.93 372.66 544.04 373.44 544.31 372.93 544.66 373.85 544.69 373.18 544.82 373.96 544.97 373.22 545.13 374.04 545.25 373.58 545.28 373.75 545.44 373.81 545.44 373.27 545.63 374.21 545.75 374.16 545.82 373.69 546.06 374.46 546.37 373.90 546.39 374.30 546.58 373.88 546.68 374.71 546.84 373.89 546.96 374.50 547.15 374.19 547.15 374.68 547.31 374.65 547.34 375.01 547.46 374.44 547.71 375.43 547.77 374.46 547.90 374.60 547.93 375.03 548.08 374.53 548.09 375.56 548.24 374.96 548.28 375.43 548.39 374.25 548.47 375.78 548.71 374.92 548.85 374.98 549.02 375.35 549.04 374.69 549.17 375.56 549.33 374.93 549.42 375.81 549.61 375.23 549.79 375.99 549.95 375.16 549.98 375.78 550.11 375.54 550.26 376.03 550.36 375.42 550.42 375.63 550.55 375.62 550.57 376.01 550.88 375.98 551.04 376.32 551.12 375.84 551.20 376.55 551.35 376.42 551.50 376.52 551.51 376.72 551.66 376.67 551.69 376.24 551.88 376.76 551.97 376.12 552.07 377.01 552.13 376.37 552.28 377.11 552.60 376.51 552.91 377.48 553.01 377.10 553.06 377.47 553.39 376.94 553.69 377.40 553.77 377.10 553.84 377.20 553.96 377.03 554.15 377.97 554.34 377.33 554.46 377.89 554.52 377.31 554.93 378.38 555.09 378.08 555.09 378.32 555.28 378.08 555.40 378.85 555.55 378.06 555.66 378.90 555.71 378.37 555.86 378.90 556.02 378.10 556.23 378.65 556.33 378.17 556.49 378.63 556.61 378.44 556.80 378.86 556.80 378.60 556.95 378.97 556.98 378.69 557.26 379.15 557.42 378.80 557.57 379.37 557.73 379.03 557.74 379.46 557.89 379.59 558.04 379.12 558.20 379.26 558.31 379.08 558.50 379.65 558.51 379.34 558.66 379.70 558.69 379.53 558.82 379.53 558.98 380.18 559.07 379.85 559.25 379.92 559.44 380.43 559.60 379.87 559.82 380.17 559.91 379.65 560.06 380.26 560.20 380.10 560.22 380.35 560.38 380.21 560.69 380.68 560.84 380.31 560.96 380.93 561.00 380.84 561.15 381.07 561.15 380.52 561.31 380.90 561.34 380.60 561.46 381.13 561.53 380.71 561.62 381.14 561.71 381.16 561.78 380.91 561.93 381.29 562.09 380.95 562.09 381.22 562.24 380.93 562.28 380.59 562.40 381.50 562.55 381.84 562.66 381.80 562.71 381.33 563.02 381.51 563.18 382.18 563.23 381.44 563.33 381.72 563.42 381.52 563.49 381.87 563.61 381.71 563.64 382.08 563.95 381.98 563.98 381.71 564.11 381.98 564.17 382.99 564.27 382.26 564.36 382.28 564.42 382.08 564.58 382.57 564.73 382.67 564.74 382.55 564.89 382.73 564.93 382.16 565.12 382.63 565.31 382.14 565.35 382.81 565.50 382.83 565.67 383.24 565.69 383.09 565.82 383.24 565.88 382.87 566.07 382.85 566.13 383.34 566.26 382.91 566.29 383.47 566.44 383.33 566.44 382.92 566.63 383.07 566.75 382.84 566.91 383.57 567.07 383.79 567.20 383.58 567.22 383.86 567.38 383.90 567.53 384.27 567.58 383.14 567.77 384.49 567.84 383.83 568.00 384.62 568.16 384.05 568.31 384.02 568.34 383.89 568.47 384.49 568.62 384.15 568.90 384.45 568.93 384.15 569.09 384.98 569.24 384.16 569.28 384.54 569.40 384.41 569.66 384.97 569.71 384.83 569.85 385.07 569.87 384.96 570.02 385.04 570.04 384.80 570.18 384.88 570.23 384.68 570.33 385.37 570.49 384.98 570.61 385.21 570.64 386.00 570.80 385.30 571.11 385.75 571.17 385.26 571.36 385.62 571.42 385.40 571.55 385.51 571.58 386.01 571.73 386.15 571.89 385.73 571.93 385.96 572.05 385.68 572.31 386.49 572.50 385.62 572.51 386.43 572.67 386.55 572.82 386.02 572.98 386.78 573.26 386.59 573.44 386.03 573.45 386.34 573.76 387.09 573.91 386.60 574.07 387.06 574.20 386.91 574.22 387.17 574.58 387.31 574.69 387.07 574.85 387.45 574.96 387.20 575.00 387.32 575.15 387.27 575.16 387.80 575.31 387.31 575.34 387.68 575.47 388.04 575.53 387.82 575.62 388.17 575.90 387.72 575.93 388.36 576.25 387.73 576.28 388.12 576.47 387.89 576.56 388.62 576.66 388.47 576.71 388.81 576.85 388.70 576.87 388.40 577.02 388.61 577.04 388.46 577.61 389.31 577.65 388.93 577.80 388.86 577.80 389.32 577.96 389.19 577.99 389.71 578.17 389.17 578.27 389.59 578.36 389.17 578.42 389.43 578.55 389.29 578.74 389.87 578.74 389.50 578.89 389.37 578.93 389.73 579.05 389.55 579.12 389.88 579.31 389.45 579.50 390.15 579.51 389.75 579.69 390.14 579.82 389.88 579.88 390.88 580.07 389.68 580.26 390.80 580.29 389.94 580.45 389.71 580.60 390.76 580.91 390.32 581.01 390.54 581.07 391.33 581.38 390.38 581.39 391.05 581.54 391.35 581.69 390.98 581.77 391.59 581.85 390.84 581.96 391.23 582.00 391.00 582.16 391.16 582.34 390.95 582.47 391.58 582.63 391.27 582.78 391.80 582.90 391.68 582.94 391.95 583.09 391.94 583.09 392.74 583.28 391.41 583.66 392.32 583.71 392.01 583.87 392.26 584.03 392.24 584.04 392.47 584.34 392.21 584.42 392.48 584.49 392.34 584.65 393.26 584.80 393.26 584.80 392.79 584.96 393.12 584.99 392.68 585.11 393.26 585.18 393.05 585.36 393.24 585.58 393.14 585.74 393.39 585.74 393.20 585.89 393.19 586.05 393.61 586.31 393.71 586.50 392.94 586.67 393.75 586.69 393.61 586.83 393.69 586.88 393.53 586.98 393.54 587.07 394.24 587.14 393.41 587.26 394.32 587.29 394.08 587.45 394.65 587.60 394.76 587.63 393.75 587.76 393.96 587.82 394.67 587.92 394.75 588.01 394.10 588.07 394.80 588.23 394.07 588.54 394.74 588.58 395.29 588.69 395.11 588.77 395.42 588.85 394.89 588.96 395.40 589.00 395.03 589.16 395.34 589.32 395.10 589.47 395.56 589.53 395.09 589.72 395.88 589.78 395.18 589.91 395.97 589.94 395.54 590.09 395.54 590.09 395.76 590.25 396.00 590.28 395.89 590.41 395.96 590.47 396.21 590.56 395.72 590.72 396.24 590.85 395.75 590.87 396.34 591.03 396.65 591.04 396.25 591.23 396.33 591.34 395.83 591.42 396.60 591.49 396.12 591.61 396.32 591.65 396.18 591.81 396.76 591.96 396.82 592.18 396.43 592.27 397.42 592.37 396.70 592.58 397.40 592.74 397.11 592.74 397.71 592.89 396.95 592.93 397.58 593.21 397.32 593.31 397.91 593.36 397.34 593.50 397.54 593.52 397.23 593.83 398.36 593.98 397.48 594.07 398.11 594.26 398.13 594.29 397.88 594.45 398.69 594.45 397.71 594.76 398.40 594.82 397.89 594.92 398.61 595.01 398.32 595.20 399.00 595.23 398.71 595.38 398.56 595.39 398.84 595.54 398.97 595.58 398.88 595.77 399.30 595.85 399.02 595.96 399.36 596.01 398.97 596.15 399.02 596.16 398.87 596.32 399.05 596.34 399.41 596.47 399.30 596.53 399.76 596.63 399.39 596.72 399.69 596.78 399.22 596.91 399.86 596.94 399.64 597.10 400.00 597.10 399.61 597.25 399.70 597.28 400.17 597.41 399.43 597.56 400.46 597.66 400.38 597.85 400.80 597.87 400.30 598.03 400.93 598.04 400.25 598.18 400.90 598.34 400.07 598.42 400.69 598.61 400.36 598.65 400.82 598.80 400.67 598.81 401.05 598.96 401.03 598.99 400.90 599.18 401.26 599.27 401.05 599.43 401.03 599.59 401.56 599.74 401.17 599.93 402.15 600.12 401.36 600.31 402.08 600.36 401.42 600.50 402.12 600.52 401.63 600.67 402.10 600.69 401.72 600.88 402.17 600.99 401.98 601.07 402.41 601.26 402.43 601.30 402.61 601.45 402.21 601.64 402.85 601.76 402.54 601.92 402.59 602.07 402.92 602.20 402.56 602.23 403.13 602.39 403.11 602.39 403.55 602.54 403.26 602.70 403.35 602.77 403.14 602.85 403.52 602.96 403.31 603.15 403.67 603.16 404.06 603.34 403.49 603.63 404.35 603.72 404.01 603.79 404.26 603.91 403.93 603.94 404.09 604.10 403.99 604.10 404.39 604.25 404.73 604.28 404.30 604.41 404.52 604.47 403.90 604.56 404.40 604.66 404.13 604.88 405.08 605.04 404.59 605.34 404.87 605.42 405.38 605.50 404.97 605.61 405.35 605.80 404.88 605.81 405.80 606.12 405.16 606.28 405.79 606.37 405.40 606.56 406.23 606.59 405.74 606.74 406.59 606.93 406.24 607.05 406.65 607.12 405.59 607.21 406.53 607.50 405.75 607.52 406.46 607.68 406.02 607.69 406.79 607.83 406.57 607.99 406.94 608.14 406.24 608.26 406.25 608.45 407.28 608.61 406.90 608.76 407.02 608.92 407.53 609.01 407.21 609.08 407.39 609.20 407.07 609.23 407.68 609.39 407.21 609.54 407.14 609.70 408.08 609.77 408.17 609.85 407.86 610.01 408.66 610.15 407.68 610.17 407.97 610.32 407.92 610.34 408.17 610.48 407.99 610.63 408.38 610.72 407.94 610.79 408.84 610.91 408.45 610.94 409.07 611.10 408.31 611.10 408.80 611.29 409.37 611.47 408.44 611.72 409.73 611.85 408.45 611.88 409.42 612.03 409.78 612.04 409.34 612.19 409.31 612.23 409.06 612.42 409.84 612.50 409.50 612.61 409.99 612.65 409.70 612.80 409.85 612.81 409.63 612.97 410.21 613.18 410.03 613.28 410.64 613.43 410.29 613.56 410.53 613.59 409.80 613.90 410.68 614.06 410.74 614.12 410.52 614.21 410.97 614.31 410.50 614.37 411.19 614.50 410.80 614.68 411.31 614.69 410.77 614.99 411.64 615.07 411.24 615.14 411.76 615.26 411.46 615.30 411.89 615.45 411.71 615.46 411.99 615.61 411.91 615.64 411.41 615.77 411.48 615.83 412.14 615.92 412.15 616.02 412.61 616.08 412.10 616.20 411.96 616.23 412.54 616.39 412.67 616.39 412.31 616.54 412.68 616.70 412.19 616.77 412.55 616.96 412.29 617.01 412.78 617.15 412.76 617.32 413.29 617.34 412.63 617.48 413.58 617.53 413.20 617.63 413.62 617.72 413.59 617.79 413.77 618.10 413.26 618.10 414.16 618.26 413.68 618.41 414.03 618.57 413.91 618.72 414.08 618.85 413.56 619.04 414.64 619.19 414.12 619.23 414.60 619.35 414.56 619.42 414.81 619.50 414.68 619.80 415.26 619.81 414.99 619.97 414.99 620.18 414.63 620.28 415.40 620.37 415.49 620.43 415.13 620.56 415.67 620.59 415.14 620.75 415.27 620.75 415.83 620.93 415.30 621.12 415.92 621.31 415.85 621.37 416.23 621.50 415.93 622.07 416.29 622.26 415.86 622.45 416.27 622.64 415.96 622.83 416.53 623.02 416.07 623.58 415.76 623.96 415.86 624.34 416.31 624.53 416.34 625.10 415.74 625.48 415.96 625.66 415.81 625.85 416.11 626.04 415.97 626.23 416.05 626.42 415.96 626.80 416.38 626.99 416.12 627.18 416.24 627.37 415.54 627.56 415.62 627.75 416.19 627.93 416.26 628.12 416.01 628.31 416.44 628.50 415.67 628.88 416.15 629.07 415.73 629.26 415.67 629.45 415.98 629.64 415.74 629.83 416.48 630.02 416.23 630.21 416.26 630.39 416.47 630.77 415.36 630.96 416.39 631.34 415.73 631.53 416.11 631.72 416.03 631.91 416.25 632.10 415.94 632.29 416.30 632.48 415.82 632.85 415.93 633.04 416.24 633.42 415.90 633.99 416.66 634.18 416.18 634.56 415.77 634.75 416.36 634.94 416.43 635.12 415.70 635.31 415.73 635.50 416.35 635.69 416.17 635.88 416.54 636.26 415.68 636.45 415.81 636.64 416.32 636.83 415.95 637.02 416.23 637.21 415.94 637.39 416.18 637.77 415.68 637.96 415.94 638.26 415.92 638.34 448.57 638.72 448.50 638.91 448.09 639.10 448.41 639.29 448.30 639.67 448.83 640.04 448.32 640.42 448.61 640.80 448.31 640.99 448.33 641.37 448.71 641.56 448.64 641.75 447.46 641.94 448.50 642.12 448.28 642.31 448.37 642.50 448.83 642.69 448.09 643.07 448.70 643.26 448.24 643.45 448.61 643.64 448.37 643.83 448.82 644.21 448.27 644.58 448.84 644.96 448.27 645.15 448.89 645.34 448.84 645.53 448.24 646.10 448.58 646.48 448.23 646.67 448.34 646.85 448.94 647.04 448.28 647.23 448.91 647.42 447.99 647.61 448.58 647.80 448.29 648.18 448.63 648.37 448.13 648.56 448.40 648.75 447.87 648.94 448.27 649.13 448.36 649.31 447.76 649.88 448.67 650.07 447.92 650.26 448.11 650.45 448.11 650.64 448.53 651.02 448.69 651.21 448.13 651.40 448.49 651.58 448.26 651.77 449.04 651.96 448.16 652.34 449.20 652.91 448.03 653.10 449.21 653.48 448.42 653.67 448.89 653.86 448.57 654.04 448.73 654.23 448.37 654.42 448.70 654.80 447.81 655.37 445.48 655.56 445.64 655.75 445.61 655.94 447.21 656.50 448.21 656.55 449.02 656.55 475.30 656.69 475.62 656.88 474.85 657.07 475.58 657.26 475.37 657.45 475.82 657.64 475.36 657.83 476.34 658.21 475.66 658.40 476.01 658.59 475.28 658.77 475.55 658.96 475.09 659.15 475.95 659.53 475.37 659.72 475.70 659.91 475.32 660.10 475.37 660.29 475.77 660.67 475.40 661.23 475.69 661.42 475.62 661.80 474.97 661.99 475.95 662.37 475.60 662.56 475.14 662.75 475.79 662.94 474.90 663.13 474.91 663.32 476.22 663.50 475.36 663.69 475.38 664.07 476.07 664.26 475.47 664.45 475.66 664.64 475.21 665.02 475.81 665.21 474.99 665.59 475.12 665.77 475.52 665.96 475.28 666.53 476.06 666.72 475.46 666.91 476.10 667.10 475.34 667.29 475.92 667.48 475.48 667.86 475.86 668.05 475.83 668.23 475.70 668.42 475.11 668.80 475.61 668.99 475.30 669.18 475.87 669.37 475.97 669.56 475.79 669.75 475.25 669.94 475.63 670.32 475.51 670.50 475.67 670.69 475.20 671.07 475.79 671.26 475.84 671.45 475.56 671.64 475.81 672.02 475.34 672.21 475.54 672.40 475.50 672.96 475.85 673.15 475.19 673.34 475.77 673.53 475.53 673.91 475.43 674.29 476.01 674.48 474.96 674.67 475.86 674.86 475.38 675.05 475.86" fill="none" stroke="#ff1a00" stroke-width="1.6" stroke-linejoin="round" stroke-linecap="square"/>
<rect x="496.45" y="354.90" width="187.10" height="128.50" fill="none" stroke="#4a4a4a" stroke-width="0.85"/>
<path d="M504.95 483.40 v2.9 M547.48 483.40 v2.9 M590.00 483.40 v2.9 M632.52 483.40 v2.9 M675.05 483.40 v2.9" stroke="#3a3a3a" stroke-width="0.75"/>
<text x="504.95" y="497.15" font-size="12" text-anchor="middle">&#8722;20</text>
<text x="547.48" y="497.15" font-size="12" text-anchor="middle">&#8722;10</text>
<text x="590.00" y="497.15" font-size="12" text-anchor="middle">0</text>
<text x="632.52" y="497.15" font-size="12" text-anchor="middle">10</text>
<text x="675.05" y="497.15" font-size="12" text-anchor="middle">20</text>
<path d="M496.45 371.30 h-3.5 M496.45 406.25 h-3.5 M496.45 441.20 h-3.5 M496.45 476.15 h-3.5" stroke="#222" stroke-width="0.8"/>
<path d="M496.45 481.56 h-2 M496.45 479.54 h-2 M496.45 477.75 h-2 M496.45 465.63 h-2 M496.45 459.47 h-2 M496.45 455.11 h-2 M496.45 451.72 h-2 M496.45 448.95 h-2 M496.45 446.61 h-2 M496.45 444.59 h-2 M496.45 442.80 h-2 M496.45 430.68 h-2 M496.45 424.52 h-2 M496.45 420.16 h-2 M496.45 416.77 h-2 M496.45 414.00 h-2 M496.45 411.66 h-2 M496.45 409.64 h-2 M496.45 407.85 h-2 M496.45 395.73 h-2 M496.45 389.57 h-2 M496.45 385.21 h-2 M496.45 381.82 h-2 M496.45 379.05 h-2 M496.45 376.71 h-2 M496.45 374.69 h-2 M496.45 372.90 h-2 M496.45 360.78 h-2" stroke="#222" stroke-width="0.6"/>
<text x="490.70" y="375.20" font-size="12" text-anchor="end">1<tspan dx="-0.9">0</tspan><tspan dy="-3.9" font-size="8.4">0</tspan></text>
<text x="490.70" y="410.15" font-size="12" text-anchor="end">1<tspan dx="-0.9">0</tspan><tspan dy="-3.9" font-size="8.4">&#8722;1</tspan></text>
<text x="490.70" y="445.10" font-size="12" text-anchor="end">1<tspan dx="-0.9">0</tspan><tspan dy="-3.9" font-size="8.4">&#8722;2</tspan></text>
<text x="490.70" y="480.05" font-size="12" text-anchor="end">1<tspan dx="-0.9">0</tspan><tspan dy="-3.9" font-size="8.4">&#8722;3</tspan></text>
<rect x="501.30" y="439.60" width="96.3" height="38.6" rx="1.5" fill="#ffffff" fill-opacity="0.85" stroke="#dcdcdc" stroke-width="0.75"/>
<path d="M504.25 446.45 h20.7" stroke="#000000" stroke-width="1.6"/>
<path d="M504.25 465.55 h20.7" stroke="#ff1a00" stroke-width="1.6"/>
<text x="531.40" y="449.70" font-size="9.5" text-anchor="start">GT</text>
<text x="531.40" y="462.95" font-size="9.5" text-anchor="start">Baseline</text>
<text x="531.40" y="472.75" font-size="9.5" text-anchor="start">(RL2=2.67e-02)</text>
<path d="M50.00 524.50 V653.35 M92.53 524.50 V653.35 M135.05 524.50 V653.35 M177.57 524.50 V653.35 M220.10 524.50 V653.35 M41.50 541.45 H228.60 M41.50 576.79 H228.60 M41.50 612.13 H228.60 M41.50 647.47 H228.60" stroke="#e0e0e0" stroke-width="0.55" stroke-dasharray="2.1 1.4" fill="none"/>
<path d="M50.00 530.74 58.93 530.74 66.87 533.77 67.03 533.72 67.18 533.79 67.22 534.10 67.41 534.09 67.48 533.95 67.60 534.03 67.63 533.87 67.94 534.26 68.09 534.14 68.17 534.39 68.40 534.14 68.55 534.62 68.55 534.43 68.74 534.72 68.92 534.52 69.11 534.62 69.16 534.53 69.30 534.82 69.47 534.63 69.68 535.01 69.92 534.94 70.44 535.32 70.53 535.21 70.69 535.36 70.99 535.20 71.38 535.70 71.45 535.42 71.60 535.70 71.75 535.51 72.06 536.08 72.14 535.79 72.33 536.09 72.37 535.89 72.52 535.95 72.52 536.11 72.71 536.03 72.90 536.22 72.98 536.03 73.09 536.27 73.13 536.13 73.28 536.35 73.43 536.24 73.47 536.46 73.74 536.38 74.04 536.82 74.22 536.71 74.79 536.92 74.81 536.70 74.96 537.03 75.17 537.17 75.27 537.04 75.36 537.30 75.42 536.97 75.55 537.41 75.57 537.25 75.72 537.20 75.88 537.29 75.92 537.55 76.03 537.34 76.18 537.32 76.49 537.79 76.49 537.56 76.64 537.80 76.79 537.55 76.87 537.87 76.94 537.78 77.25 538.14 77.25 537.98 77.55 537.89 77.86 538.28 78.01 538.29 78.01 538.15 78.17 538.23 78.20 538.51 78.32 538.32 78.57 538.46 78.62 538.64 78.95 538.62 79.08 538.82 79.14 538.56 79.23 539.01 79.33 538.65 79.52 538.93 79.54 538.70 79.84 539.07 80.09 538.95 80.30 539.27 80.76 539.36 80.91 539.53 81.03 539.48 81.07 539.76 81.22 539.60 81.22 539.84 81.41 539.60 81.60 539.87 81.98 539.90 82.17 540.10 82.29 539.99 82.44 540.27 82.55 540.07 82.74 540.39 82.74 540.17 83.05 540.46 83.11 540.33 83.30 540.37 83.35 540.57 83.49 540.30 83.51 540.63 83.81 540.89 84.12 540.68 84.44 541.08 84.58 540.86 85.01 541.30 85.19 541.34 85.20 541.19 85.34 541.42 85.38 541.30 85.64 541.38 85.76 541.77 85.80 541.51 85.95 541.65 85.95 541.46 86.14 541.72 86.33 541.74 86.41 541.61 86.52 541.89 87.02 542.08 87.09 541.93 87.32 542.25 87.63 542.22 87.78 542.46 87.93 542.26 88.09 542.64 88.22 542.63 88.24 542.48 88.39 542.52 88.41 542.82 88.60 542.56 88.79 542.96 88.98 542.76 89.17 543.09 89.36 543.02 89.46 543.22 89.61 543.05 89.76 543.23 89.92 543.17 89.93 543.34 90.22 543.57 90.38 543.56 90.49 543.35 90.53 543.49 90.68 543.42 90.68 543.77 90.83 543.65 90.99 543.95 91.06 543.77 91.14 543.94 91.25 543.83 91.29 543.66 91.63 544.25 92.21 544.22 92.36 544.53 92.51 544.33 92.66 544.63 92.76 544.33 92.82 544.92 92.95 544.73 93.12 544.71 93.14 544.91 93.43 544.77 93.52 545.14 93.89 544.90 94.04 545.25 94.09 545.18 94.34 545.39 94.66 545.48 94.80 545.25 94.84 545.72 95.22 545.62 95.26 545.74 95.41 545.48 95.41 545.76 95.56 545.71 95.72 546.02 95.79 545.71 95.98 546.22 96.17 546.00 96.33 546.25 96.55 546.23 96.63 546.45 97.12 546.38 97.30 546.76 97.85 546.82 98.06 547.10 98.31 547.00 98.82 547.51 98.92 547.39 99.07 547.61 99.23 547.52 99.39 547.75 99.57 547.64 99.76 548.00 99.95 547.84 99.99 548.02 100.14 547.87 100.30 548.15 100.45 548.06 100.75 548.28 100.90 548.18 101.85 548.94 101.97 548.84 102.28 549.13 102.43 548.98 102.59 549.26 102.98 549.30 103.04 549.43 103.17 549.35 103.20 549.64 103.35 549.62 103.36 549.42 103.50 549.63 103.74 549.52 103.81 549.84 104.11 549.95 104.12 549.85 104.26 550.15 104.30 549.93 104.42 550.03 104.49 549.91 104.57 550.26 104.68 550.09 104.87 550.32 104.87 550.16 105.03 550.23 105.06 550.48 105.18 550.31 105.25 550.46 105.64 550.61 105.79 550.94 105.82 550.61 106.01 550.86 106.39 550.87 106.55 551.38 106.58 550.94 106.86 551.30 107.52 551.42 107.90 551.79 108.08 551.66 108.09 551.97 108.28 552.15 108.38 551.77 108.47 551.99 109.00 552.37 109.22 552.15 109.30 552.52 109.60 552.75 109.79 552.57 109.91 552.61 109.98 552.86 110.06 552.74 110.93 553.25 111.12 553.32 111.13 553.20 111.28 553.52 111.49 553.53 111.59 553.80 111.74 553.49 111.87 553.89 112.05 553.67 112.06 553.96 112.20 553.87 112.44 553.96 112.63 554.26 113.01 554.14 113.58 554.74 113.73 554.58 113.76 554.79 113.95 554.88 114.03 554.66 114.33 554.90 114.34 555.16 114.52 555.04 114.71 555.31 114.95 555.14 115.25 555.58 115.28 555.45 115.47 555.60 115.56 555.43 115.71 555.68 115.85 555.65 115.86 555.83 116.04 555.70 116.17 555.88 116.22 555.75 116.41 556.18 116.63 556.21 116.78 556.09 116.93 556.42 117.08 556.35 117.17 556.57 117.24 556.44 117.36 556.65 117.54 556.61 117.55 556.79 117.93 556.76 118.12 557.08 118.15 557.00 118.31 557.14 118.46 557.02 118.61 557.08 118.76 557.46 118.92 557.37 119.07 557.57 119.25 557.42 119.37 557.64 119.53 557.47 119.82 557.99 120.01 557.83 120.20 558.09 120.39 557.99 120.58 558.33 120.59 558.19 120.75 558.39 120.77 558.27 120.90 558.30 120.95 558.56 121.05 558.28 121.14 558.75 121.21 558.57 121.33 558.83 121.51 558.59 121.66 558.63 121.71 558.89 121.90 559.06 121.97 558.69 122.12 559.18 122.43 559.14 122.58 559.51 122.73 559.35 123.04 559.71 123.04 559.45 123.22 559.77 123.34 559.80 123.41 559.59 123.49 559.86 123.60 559.75 123.65 559.93 123.95 560.01 124.11 560.25 124.17 560.01 124.26 560.29 124.36 560.36 124.41 560.20 124.55 560.48 124.74 560.41 125.02 560.92 125.12 560.66 125.48 560.99 125.50 560.87 125.63 561.12 125.87 561.04 125.94 561.31 126.06 560.94 126.09 561.34 126.24 561.51 126.25 561.34 126.39 561.53 126.44 561.39 126.63 561.67 126.70 561.55 127.01 561.83 127.20 561.74 127.31 561.99 127.46 561.87 127.58 562.19 127.62 562.01 127.95 562.34 128.07 562.23 128.23 562.45 128.53 562.58 128.68 562.87 128.71 562.67 128.84 562.76 129.09 563.14 129.14 562.95 129.28 563.14 129.45 562.89 129.47 563.33 129.60 563.46 129.66 563.21 129.75 563.53 129.91 563.43 130.04 563.60 130.06 563.40 130.41 563.83 130.60 563.64 130.67 563.88 130.97 564.14 130.98 563.97 131.28 564.42 131.43 564.11 131.74 564.80 131.89 564.39 132.04 564.84 132.12 564.69 132.35 564.96 132.50 564.86 132.81 565.27 132.87 565.08 132.96 565.23 133.06 565.17 133.25 565.55 133.57 565.43 133.63 565.72 133.82 565.46 134.03 566.02 134.20 565.84 134.33 566.09 134.39 565.96 134.58 566.01 134.79 566.36 134.94 566.28 134.96 566.52 135.09 566.30 135.33 566.80 135.40 566.74 135.52 566.88 135.70 566.78 135.71 566.60 135.86 567.03 136.01 566.79 136.28 567.25 136.32 567.03 136.47 567.28 136.66 567.24 136.85 567.58 136.93 567.51 137.04 567.64 137.08 567.84 137.38 567.86 137.60 568.15 137.69 567.97 137.84 568.01 137.98 568.34 138.15 568.38 138.17 568.28 138.45 568.62 138.55 568.51 138.91 568.79 138.93 568.69 139.06 568.77 139.69 569.39 139.83 569.46 139.87 569.30 139.98 569.51 140.28 569.66 140.44 569.61 140.74 570.04 140.89 569.92 141.01 570.23 141.05 570.05 141.20 570.21 141.20 570.10 141.35 570.30 141.58 570.32 141.77 570.64 141.96 570.68 141.96 570.50 142.15 570.96 142.27 570.75 142.42 571.15 142.71 571.20 142.73 570.94 143.18 571.64 143.28 571.33 143.47 571.73 143.49 571.60 143.64 571.84 143.79 571.75 144.04 572.05 144.10 571.89 144.25 572.44 144.56 572.05 144.60 572.36 144.98 572.55 145.02 572.73 145.17 572.77 145.17 572.59 145.32 572.96 145.55 572.91 146.24 573.49 146.31 573.34 146.54 573.81 146.69 573.81 146.69 573.70 146.88 573.85 147.00 573.72 147.15 574.14 147.30 574.03 147.76 574.27 147.82 574.51 148.07 574.61 148.20 574.52 148.39 574.96 148.58 574.91 148.77 575.19 148.83 575.07 148.96 575.22 148.98 575.12 149.29 575.53 149.52 575.28 149.75 575.77 149.90 575.62 149.90 575.80 150.20 576.09 150.28 576.02 150.51 576.39 150.66 576.39 150.81 576.69 150.85 576.57 151.04 576.62 151.12 576.45 151.23 576.96 151.27 576.80 151.43 576.85 151.79 577.17 151.88 576.98 151.98 577.31 152.17 577.30 152.55 577.75 152.74 577.62 152.93 578.01 152.95 577.85 153.26 578.18 153.31 578.09 153.50 578.41 153.56 578.23 153.69 578.63 153.71 578.52 153.87 578.53 154.02 578.71 154.06 578.52 154.48 579.03 154.63 578.96 154.78 579.34 154.82 579.08 154.94 579.10 155.09 579.55 155.20 579.43 155.24 579.60 155.39 579.51 155.85 580.11 156.00 580.18 156.15 580.07 156.31 580.35 156.34 580.21 156.61 580.56 156.71 580.47 156.90 580.91 156.92 580.80 157.07 580.88 157.09 581.11 157.28 580.86 157.38 581.16 157.47 581.03 157.68 581.38 157.84 581.21 157.99 581.59 158.04 581.46 158.23 581.78 158.29 581.66 158.45 582.05 158.61 581.92 158.79 581.98 159.06 582.41 159.36 582.39 159.55 582.89 159.74 582.69 159.93 583.09 159.97 582.90 160.12 583.16 160.12 583.07 160.31 583.14 160.43 583.45 160.50 583.23 160.58 583.39 160.69 583.27 160.88 583.87 160.89 583.66 161.04 583.92 161.07 583.78 161.19 584.09 161.25 583.84 161.63 584.35 161.65 584.11 161.82 584.19 161.96 584.51 162.41 584.70 162.57 585.11 162.58 584.77 162.87 585.20 162.96 585.10 163.33 585.55 163.34 585.41 163.48 585.70 163.64 585.54 163.79 585.92 164.28 586.22 164.40 586.04 164.47 586.53 164.55 586.39 164.70 586.64 164.85 586.59 165.01 587.06 165.04 586.60 165.31 587.10 165.61 587.32 165.62 587.15 165.80 587.48 165.98 587.50 166.36 587.18 166.55 587.37 166.74 587.18 166.93 587.33 167.69 587.20 168.25 587.41 168.44 587.13 168.63 587.22 168.82 587.15 169.01 587.33 169.58 587.12 169.77 587.26 169.96 587.12 170.15 587.40 170.34 587.28 170.71 587.40 171.09 587.16 171.28 587.34 171.85 587.32 172.23 587.15 172.42 587.42 172.61 587.21 172.80 587.21 173.17 587.44 173.36 587.28 173.55 587.39 174.12 587.11 174.31 587.32 174.88 587.21 175.44 587.38 176.01 587.08 176.39 587.29 176.58 587.15 176.96 587.31 178.09 587.33 178.28 587.22 178.66 587.46 179.04 587.16 179.99 587.26 180.74 585.49 181.12 585.96 181.31 586.80 181.50 586.91 181.61 587.20 181.61 619.97 182.07 620.06 182.44 620.38 182.63 620.40 183.01 620.12 183.20 620.37 183.39 620.10 183.77 620.34 184.15 619.97 184.34 620.28 185.66 620.06 185.85 620.20 186.04 620.14 186.23 620.33 186.42 620.10 186.80 620.41 186.99 620.23 187.17 620.38 187.74 620.15 188.12 620.48 188.31 620.17 188.50 620.37 188.69 620.16 189.07 620.19 189.26 620.01 189.63 620.25 190.20 620.20 190.39 620.38 190.77 620.24 190.96 620.41 191.15 620.38 191.34 620.21 191.53 620.40 191.72 620.11 192.47 620.35 193.04 620.13 193.23 620.53 193.42 620.18 193.61 620.15 193.80 620.31 193.99 620.20 194.55 620.39 194.74 620.16 195.31 620.28 195.88 620.08 196.26 620.32 196.45 620.17 196.63 620.42 196.82 620.07 197.20 620.29 197.58 620.31 197.77 620.19 197.96 620.33 198.15 620.22 198.53 620.25 199.09 619.06 199.28 618.96 199.47 619.11 199.85 619.96 200.32 620.32 200.32 647.07 200.80 647.27 201.18 647.16 201.74 647.24 202.31 647.00 202.50 647.20 202.69 647.09 203.45 647.17 203.82 647.08 204.01 647.26 204.39 647.26 205.15 647.02 205.34 647.22 205.53 647.05 206.28 647.18 206.66 646.97 207.04 647.20 207.23 647.04 207.61 647.24 207.80 647.07 207.99 647.20 208.37 647.09 208.55 647.22 208.93 647.12 209.12 647.32 209.31 647.21 209.50 647.36 209.69 647.14 210.45 647.35 210.64 647.18 210.82 647.27 211.20 647.08 211.58 647.29 211.77 647.04 211.96 647.24 212.15 647.05 212.53 647.05 212.91 647.35 213.47 646.98 213.66 647.26 213.85 647.12 214.04 647.31 214.42 647.06 214.99 647.16 215.37 647.07 215.55 647.18 216.12 647.14 216.31 647.35 216.50 647.20 217.07 647.24 217.26 647.06 217.64 647.16 217.83 646.85 218.01 647.08 218.77 647.06 219.15 647.32 219.34 646.95 219.53 647.34 220.10 647.23" fill="none" stroke="#31901f" stroke-width="1.6" stroke-linejoin="round" stroke-linecap="square"/>
<rect x="41.5" y="524.50" width="187.10" height="128.85" fill="none" stroke="#4a4a4a" stroke-width="0.85"/>
<path d="M50.00 653.35 v2.9 M92.53 653.35 v2.9 M135.05 653.35 v2.9 M177.57 653.35 v2.9 M220.10 653.35 v2.9" stroke="#3a3a3a" stroke-width="0.75"/>
<text x="50.00" y="667.10" font-size="12" text-anchor="middle">&#8722;20</text>
<text x="92.53" y="667.10" font-size="12" text-anchor="middle">&#8722;10</text>
<text x="135.05" y="667.10" font-size="12" text-anchor="middle">0</text>
<text x="177.57" y="667.10" font-size="12" text-anchor="middle">10</text>
<text x="220.10" y="667.10" font-size="12" text-anchor="middle">20</text>
<path d="M41.50 541.45 h-3.5 M41.50 576.79 h-3.5 M41.50 612.13 h-3.5 M41.50 647.47 h-3.5" stroke="#222" stroke-width="0.8"/>
<path d="M41.50 652.94 h-2 M41.50 650.89 h-2 M41.50 649.09 h-2 M41.50 636.83 h-2 M41.50 630.61 h-2 M41.50 626.19 h-2 M41.50 622.77 h-2 M41.50 619.97 h-2 M41.50 617.60 h-2 M41.50 615.55 h-2 M41.50 613.75 h-2 M41.50 601.49 h-2 M41.50 595.27 h-2 M41.50 590.85 h-2 M41.50 587.43 h-2 M41.50 584.63 h-2 M41.50 582.26 h-2 M41.50 580.21 h-2 M41.50 578.41 h-2 M41.50 566.15 h-2 M41.50 559.93 h-2 M41.50 555.51 h-2 M41.50 552.09 h-2 M41.50 549.29 h-2 M41.50 546.92 h-2 M41.50 544.87 h-2 M41.50 543.07 h-2 M41.50 530.81 h-2 M41.50 524.59 h-2" stroke="#222" stroke-width="0.6"/>
<text x="35.75" y="545.35" font-size="12" text-anchor="end">1<tspan dx="-0.9">0</tspan><tspan dy="-3.9" font-size="8.4">0</tspan></text>
<text x="35.75" y="580.69" font-size="12" text-anchor="end">1<tspan dx="-0.9">0</tspan><tspan dy="-3.9" font-size="8.4">&#8722;1</tspan></text>
<text x="35.75" y="616.03" font-size="12" text-anchor="end">1<tspan dx="-0.9">0</tspan><tspan dy="-3.9" font-size="8.4">&#8722;2</tspan></text>
<text x="35.75" y="651.37" font-size="12" text-anchor="end">1<tspan dx="-0.9">0</tspan><tspan dy="-3.9" font-size="8.4">&#8722;3</tspan></text>
<rect x="46.30" y="609.50" width="96.3" height="38.6" rx="1.5" fill="#ffffff" fill-opacity="0.85" stroke="#dcdcdc" stroke-width="0.75"/>
<path d="M49.25 616.35 h20.7" stroke="#000000" stroke-width="1.6"/>
<path d="M49.25 635.45 h20.7" stroke="#31901f" stroke-width="1.6"/>
<text x="76.40" y="619.60" font-size="9.5" text-anchor="start">GT</text>
<text x="76.40" y="632.85" font-size="9.5" text-anchor="start">vRBA</text>
<text x="76.40" y="642.65" font-size="9.5" text-anchor="start">(RL2=7.75e-03)</text>
<path d="M277.45 524.50 V653.35 M319.98 524.50 V653.35 M362.50 524.50 V653.35 M405.02 524.50 V653.35 M447.55 524.50 V653.35 M268.95 541.45 H456.05 M268.95 576.21 H456.05 M268.95 610.97 H456.05 M268.95 645.73 H456.05" stroke="#e0e0e0" stroke-width="0.55" stroke-dasharray="2.1 1.4" fill="none"/>
<path d="M277.45 531.06 294.86 531.13 294.89 530.93 295.11 531.28 295.23 531.15 295.43 531.37 295.45 531.11 295.56 531.40 295.68 531.26 295.90 531.71 296.00 531.52 296.01 531.92 296.13 531.66 296.24 531.84 296.35 531.64 296.56 531.68 296.75 532.00 296.80 531.75 297.02 532.25 297.14 532.29 297.25 532.06 297.51 532.49 297.59 532.24 297.81 532.83 297.92 532.22 298.04 532.75 298.15 532.47 298.27 532.86 298.46 532.76 298.49 533.10 298.60 533.05 298.64 532.72 298.71 533.10 298.83 532.90 299.27 533.51 299.50 533.29 299.61 533.54 299.72 533.24 299.78 533.54 300.28 533.97 300.35 533.89 300.40 534.05 300.51 533.67 300.54 534.09 300.62 533.72 300.73 533.98 300.85 533.88 300.92 534.35 300.96 533.91 301.10 534.28 301.18 534.36 301.29 534.26 301.30 534.54 301.41 534.12 301.48 534.43 301.52 534.32 301.86 534.72 301.86 534.43 301.97 534.66 302.31 534.66 302.43 535.04 302.76 534.90 302.98 535.29 303.00 535.12 303.19 535.19 303.54 535.60 303.56 535.46 303.66 535.54 303.75 535.45 303.88 535.82 303.99 535.49 304.11 535.93 304.22 535.70 304.33 536.10 304.44 535.80 304.51 535.98 304.67 535.91 304.78 536.24 304.89 536.07 305.01 536.24 305.08 536.14 305.12 536.26 305.23 536.23 305.27 536.51 305.46 536.35 305.46 536.62 305.65 536.58 305.83 536.93 305.91 536.55 306.13 536.98 306.21 536.90 306.35 536.97 306.40 537.23 306.47 536.88 306.69 537.30 306.78 537.00 306.80 537.44 306.92 537.03 306.97 537.37 307.14 537.50 307.16 537.23 307.37 537.66 307.48 537.53 307.59 537.76 307.73 537.52 307.93 537.98 308.04 537.69 308.29 538.42 308.38 538.01 308.48 538.31 308.60 538.02 308.67 538.44 308.72 538.15 308.86 538.50 308.94 538.22 309.05 538.55 309.16 538.45 309.28 538.70 309.39 538.70 309.43 538.53 309.50 538.93 309.61 538.95 309.62 538.65 309.73 539.02 309.81 538.90 309.95 539.13 310.19 539.00 310.38 539.06 310.51 539.33 310.56 539.21 310.74 539.27 310.96 539.72 311.08 539.51 311.13 539.70 311.30 539.75 311.32 539.43 311.41 539.87 311.51 539.61 311.53 540.12 311.70 539.66 311.98 540.35 312.09 540.01 312.27 539.97 312.46 540.64 312.76 540.26 312.99 540.66 313.21 540.75 313.21 540.61 313.40 541.11 313.55 540.55 313.66 541.09 313.77 541.12 313.78 540.99 313.97 541.15 314.00 541.49 314.22 541.24 314.34 541.36 314.35 541.19 314.45 541.46 314.67 541.46 314.73 541.71 314.79 541.38 314.90 541.87 314.92 541.63 315.11 541.62 315.12 542.01 315.46 541.93 315.48 542.42 315.68 542.13 315.91 542.29 316.02 542.63 316.05 542.27 316.13 542.77 316.24 542.53 316.25 542.63 316.36 542.52 316.43 542.75 316.47 542.51 316.81 542.67 316.81 542.86 316.92 542.79 317.15 543.01 317.19 543.40 317.26 543.13 317.48 543.33 317.56 543.25 317.60 543.39 317.75 543.21 317.82 543.42 317.93 543.37 317.94 543.66 318.13 543.65 318.16 543.76 318.32 543.71 318.38 543.53 318.61 544.03 318.72 543.84 318.83 543.97 318.89 544.39 318.94 544.09 319.06 544.09 319.08 544.37 319.39 544.18 319.46 544.57 319.62 544.27 319.73 544.31 319.96 545.01 320.02 544.66 320.18 545.01 320.29 544.75 320.40 544.74 320.41 545.02 320.52 545.07 320.59 544.90 320.63 545.18 320.86 545.05 320.97 545.67 321.16 545.31 321.35 545.65 321.42 545.50 321.64 545.69 321.73 545.57 321.92 546.01 322.09 545.96 322.11 545.77 322.29 546.13 322.32 546.00 322.48 546.26 322.54 546.17 322.65 546.45 322.77 546.09 323.05 546.45 323.10 546.74 323.43 546.65 323.44 546.50 323.62 547.04 323.67 546.88 324.00 547.05 324.00 547.20 324.19 547.10 324.38 547.44 324.45 547.28 324.57 547.56 324.90 547.75 324.94 547.47 325.51 548.16 325.58 547.93 325.80 548.09 325.89 548.62 325.91 548.30 326.03 548.24 326.14 548.67 326.27 548.44 326.59 549.14 326.65 548.74 326.70 548.92 326.93 548.96 327.02 548.80 327.04 549.14 327.15 549.13 327.21 549.43 327.26 549.26 327.38 549.50 327.40 549.15 327.59 549.46 327.60 549.26 327.71 549.59 327.78 549.52 327.94 549.72 328.16 549.76 328.27 550.02 328.35 549.67 328.61 550.16 328.72 550.04 328.73 550.30 328.84 550.10 329.11 550.35 329.17 550.15 329.30 550.67 329.40 550.66 329.48 550.36 329.51 550.67 329.62 550.62 329.67 550.78 329.74 550.53 330.05 550.98 330.07 550.77 330.24 551.36 330.30 550.89 330.43 551.36 330.52 551.21 330.64 551.29 330.75 551.16 330.86 551.57 331.00 551.43 331.19 551.72 331.20 551.53 331.31 551.87 331.38 551.69 331.42 552.07 331.57 551.64 331.76 552.46 331.94 552.03 332.13 552.49 332.21 552.42 332.32 552.60 332.43 552.57 332.51 552.36 332.66 552.76 332.88 552.88 332.89 552.78 333.00 553.08 333.08 552.89 333.11 553.04 333.22 552.88 333.27 553.19 333.33 553.07 333.45 553.29 333.46 553.11 333.56 553.49 333.65 553.38 333.78 553.62 333.89 553.50 334.21 553.79 334.23 553.56 334.34 553.70 334.57 553.68 334.59 553.93 334.79 554.12 334.91 554.05 335.13 554.26 335.16 554.17 335.24 554.56 335.35 554.36 335.47 554.60 335.58 554.53 335.73 554.73 335.81 554.65 335.92 554.77 335.92 554.68 336.26 555.20 336.30 554.89 336.37 555.24 336.59 555.06 336.82 555.72 336.86 555.38 337.04 555.67 337.15 555.49 337.38 555.85 337.49 555.77 337.60 556.01 337.62 555.81 337.72 556.09 337.81 555.86 337.83 556.20 338.19 556.38 338.28 556.27 338.38 556.57 338.39 556.36 338.62 556.70 338.73 556.49 338.76 557.11 338.95 556.84 339.07 556.98 339.29 557.00 339.32 557.25 339.51 557.08 339.52 557.39 339.63 557.36 339.70 557.62 339.74 557.41 339.85 557.65 339.89 557.48 340.08 557.84 340.27 557.78 340.30 557.55 340.41 557.89 340.53 557.77 340.64 557.96 340.65 558.25 340.75 558.11 340.98 558.27 341.03 558.62 341.20 558.26 341.59 559.25 341.65 558.77 341.76 559.07 341.99 559.15 342.10 558.96 342.16 559.26 342.21 559.17 342.33 559.34 342.35 559.17 342.54 559.77 342.55 559.25 342.78 559.88 342.89 559.56 343.00 559.94 343.11 559.98 343.11 559.74 343.22 560.08 343.34 560.18 343.45 560.08 343.49 560.30 343.56 560.16 343.67 560.36 343.67 560.03 343.79 560.46 343.90 560.35 344.01 560.44 344.05 560.81 344.12 560.62 344.35 560.83 344.43 560.66 344.62 561.16 344.81 560.99 345.02 561.57 345.25 561.17 345.38 561.57 345.47 561.66 345.57 561.42 345.81 561.98 345.92 561.96 345.94 561.72 346.04 562.07 346.26 562.25 346.32 562.12 346.37 562.44 346.48 562.37 346.51 562.50 346.60 562.35 346.82 562.71 346.93 562.53 347.27 563.21 347.61 563.09 347.65 563.43 347.83 563.46 347.95 563.81 348.06 563.47 348.17 563.92 348.22 563.60 348.51 563.96 348.59 564.00 348.62 563.83 349.07 564.55 349.18 564.45 349.30 564.79 349.35 564.59 349.63 564.90 349.73 564.60 349.74 565.17 349.86 565.09 349.92 565.28 350.11 564.93 350.19 565.35 350.30 565.24 350.31 565.47 350.49 565.39 350.53 565.73 350.86 565.67 350.87 565.99 350.98 565.89 351.09 566.28 351.24 566.17 351.43 566.38 351.43 566.05 351.77 566.47 351.81 566.17 352.00 566.79 352.38 566.93 352.44 567.22 352.57 567.18 352.76 567.47 352.78 567.31 352.89 567.51 352.95 567.29 353.00 567.59 353.12 567.54 353.13 567.86 353.32 567.60 353.57 567.98 353.79 568.06 354.02 568.69 354.08 568.34 354.24 568.59 354.27 568.40 354.47 568.77 354.58 568.70 354.80 568.96 354.84 568.75 354.92 569.19 355.14 569.09 355.25 569.38 355.37 569.38 355.40 569.23 355.59 569.64 355.70 569.70 355.78 569.56 355.81 569.83 355.97 569.68 356.04 569.98 356.15 569.74 356.16 570.09 356.35 570.11 356.54 570.54 356.71 570.51 356.73 570.72 356.83 570.52 356.94 570.72 357.11 570.76 357.16 571.01 357.28 570.92 357.39 571.18 357.49 571.12 357.61 571.67 357.68 571.27 357.73 571.34 357.84 571.22 357.86 571.53 357.95 571.44 358.06 571.81 358.43 571.80 358.51 572.21 358.62 572.20 358.63 571.88 358.81 572.44 358.96 572.14 359.00 572.57 359.07 572.33 359.19 572.88 359.19 572.63 359.30 572.84 359.41 572.62 359.52 572.82 359.75 572.85 359.86 573.45 359.95 573.47 359.97 573.15 360.13 573.27 360.32 573.85 360.51 573.78 360.65 574.11 360.70 573.73 361.08 574.42 361.10 574.17 361.27 574.58 361.32 574.31 361.55 574.95 361.65 574.53 361.66 574.90 362.00 575.21 362.11 574.98 362.45 575.66 362.56 575.35 362.59 575.82 362.78 575.50 362.90 576.03 363.01 575.66 363.16 576.28 363.23 576.16 363.35 576.41 363.46 576.36 363.54 576.78 363.57 576.43 363.80 576.79 363.91 576.61 364.11 577.06 364.25 576.86 364.36 577.34 364.68 577.50 364.70 577.27 364.81 577.41 365.14 578.20 365.24 578.15 365.26 577.76 365.37 578.11 365.48 578.10 365.59 578.63 365.62 578.41 365.81 578.38 366.00 578.97 366.04 578.73 366.19 579.11 366.27 579.18 366.38 579.08 366.38 579.28 366.49 579.15 366.61 579.34 366.72 579.13 366.95 579.96 367.06 579.62 367.39 580.27 367.62 580.15 367.84 580.39 367.89 580.81 368.07 580.61 368.08 580.77 368.27 580.77 368.29 581.05 368.46 580.84 368.63 581.33 368.84 581.61 368.85 581.36 368.97 581.56 369.03 581.88 369.08 581.50 369.19 581.91 369.30 581.82 369.53 582.44 369.64 582.19 369.75 582.50 369.87 582.26 369.97 582.68 369.98 581.99 370.16 582.90 370.20 582.71 370.32 582.91 370.35 582.73 370.43 583.17 370.54 583.01 370.54 583.26 370.73 583.08 370.77 583.30 370.88 583.25 370.92 583.52 370.99 583.42 371.30 584.06 371.44 584.08 371.49 583.80 371.68 584.41 371.78 584.35 371.87 584.59 371.89 584.42 372.05 584.77 372.11 584.56 372.23 585.06 372.24 584.49 372.43 585.21 372.45 584.94 372.62 585.01 372.79 585.46 373.01 585.45 373.19 585.65 373.24 586.14 373.38 585.80 373.46 586.12 373.95 586.07 374.33 586.34 374.51 586.00 374.70 585.99 375.08 586.35 375.27 586.10 375.46 586.23 375.65 585.92 376.03 586.29 376.41 585.80 376.78 586.18 376.97 586.10 377.16 586.23 377.35 585.94 377.54 586.27 377.73 585.98 377.92 585.92 378.49 586.12 379.06 585.98 379.81 586.17 380.00 585.90 380.19 586.00 380.57 585.82 380.76 586.16 381.14 586.11 381.33 585.93 381.51 586.26 381.89 585.94 382.08 586.28 382.46 585.83 382.84 586.17 383.22 586.19 383.79 585.91 383.97 586.37 384.35 586.01 384.54 586.10 384.70 586.40 384.70 618.40 385.11 618.44 385.30 618.30 385.49 618.63 385.87 618.38 386.06 617.95 386.24 618.54 386.62 618.19 386.81 618.32 387.19 618.25 387.38 618.68 387.57 618.36 387.76 618.49 387.95 618.19 388.14 618.29 388.33 618.18 388.70 617.71 388.89 616.88 389.08 616.78 389.27 616.37 389.65 616.78 390.03 618.01 390.41 618.09 390.60 618.54 390.79 618.22 390.97 618.52 391.35 618.46 391.54 618.58 391.73 618.20 392.11 618.34 392.30 618.62 392.49 618.33 392.68 618.56 392.87 618.23 393.06 618.68 393.25 618.32 393.43 618.65 394.19 618.27 394.38 618.49 394.57 618.51 394.76 618.30 394.95 618.59 395.14 618.59 395.33 618.35 395.70 618.42 395.89 618.25 396.08 618.66 396.46 618.11 396.84 618.61 397.03 618.25 397.98 618.46 398.01 645.05 398.16 645.56 398.54 645.52 398.92 645.22 399.11 645.50 399.68 645.11 399.87 645.46 400.25 645.19 400.43 645.63 400.62 645.43 400.81 645.41 401.00 645.58 401.57 645.26 402.14 645.56 402.33 645.29 402.52 645.64 402.71 645.50 403.08 645.65 403.27 645.39 403.46 645.63 404.03 645.20 404.22 645.62 404.79 645.62 404.98 645.24 405.35 645.36 405.54 645.57 405.73 645.32 406.11 645.43 406.49 645.24 407.06 645.58 407.25 645.23 407.44 645.36 407.62 645.77 407.81 645.41 408.00 645.31 408.19 645.65 408.38 645.64 408.57 645.28 408.95 645.64 409.33 645.38 409.52 645.57 410.08 645.44 410.27 645.18 410.84 645.53 411.03 645.52 411.22 645.75 411.41 645.44 411.79 645.53 412.17 645.25 412.35 645.69 412.54 645.37 413.11 645.53 413.30 645.19 413.49 645.33 413.68 645.13 413.87 645.54 414.06 645.58 414.81 645.15 415.19 645.64 415.38 645.29 415.76 645.35 415.95 645.23 416.33 645.66 416.52 645.14 416.90 645.47 417.27 645.12 417.46 645.40 417.65 645.18 417.84 645.42 418.03 645.16 418.22 645.40 418.41 645.26 418.60 645.43 418.79 645.34 419.17 645.49 419.54 645.33 419.92 645.51 420.30 645.22 420.68 645.57 420.87 645.55 421.25 645.20 421.44 645.58 421.63 645.27 422.00 645.53 422.19 645.51 422.38 645.27 422.57 645.50 422.95 645.14 423.14 645.55 423.52 645.68 423.71 645.36 423.90 645.56 424.27 645.54 424.46 645.24 424.84 645.35 425.03 645.68 425.98 645.21 426.54 645.45 427.11 645.45 427.30 645.67 427.68 645.43 428.06 645.44 428.25 645.70 428.81 645.27 429.38 645.52 429.57 645.43 429.76 645.51 429.95 645.33 430.14 645.51 430.33 645.34 430.71 645.65 430.90 645.64 431.09 645.31 431.27 645.52 431.46 645.51 431.65 645.08 431.84 645.60 432.03 645.44 432.22 645.63 432.60 645.37 432.79 645.48 432.98 645.17 433.17 645.57 433.54 645.64 433.73 645.44 434.30 645.56 434.49 645.38 434.68 645.53 434.87 645.43 435.25 645.55 435.82 645.37 436.00 645.72 436.19 645.23 436.38 645.42 436.76 645.36 436.95 645.63 437.14 645.33 437.52 645.51 437.71 645.32 438.09 645.58 438.27 645.31 438.84 645.45 439.03 645.21 439.22 645.51 439.98 645.37 440.17 645.57 440.36 645.36 441.11 645.62 441.49 645.19 441.68 645.52 441.87 645.56 442.44 645.36 443.00 645.60 443.19 645.29 443.38 645.48 444.14 645.32 444.33 645.41 444.52 645.14 445.09 645.47 445.28 645.31 445.65 645.33 446.22 645.56 446.60 645.31 446.98 645.51 447.36 645.33 447.55 645.49" fill="none" stroke="#31901f" stroke-width="1.6" stroke-linejoin="round" stroke-linecap="square"/>
<rect x="268.95" y="524.50" width="187.10" height="128.85" fill="none" stroke="#4a4a4a" stroke-width="0.85"/>
<path d="M277.45 653.35 v2.9 M319.98 653.35 v2.9 M362.50 653.35 v2.9 M405.02 653.35 v2.9 M447.55 653.35 v2.9" stroke="#3a3a3a" stroke-width="0.75"/>
<text x="277.45" y="667.10" font-size="12" text-anchor="middle">&#8722;20</text>
<text x="319.98" y="667.10" font-size="12" text-anchor="middle">&#8722;10</text>
<text x="362.50" y="667.10" font-size="12" text-anchor="middle">0</text>
<text x="405.02" y="667.10" font-size="12" text-anchor="middle">10</text>
<text x="447.55" y="667.10" font-size="12" text-anchor="middle">20</text>
<path d="M268.95 541.45 h-3.5 M268.95 576.21 h-3.5 M268.95 610.97 h-3.5 M268.95 645.73 h-3.5" stroke="#222" stroke-width="0.8"/>
<path d="M268.95 651.11 h-2 M268.95 649.10 h-2 M268.95 647.32 h-2 M268.95 635.27 h-2 M268.95 629.15 h-2 M268.95 624.80 h-2 M268.95 621.43 h-2 M268.95 618.68 h-2 M268.95 616.35 h-2 M268.95 614.34 h-2 M268.95 612.56 h-2 M268.95 600.51 h-2 M268.95 594.39 h-2 M268.95 590.04 h-2 M268.95 586.67 h-2 M268.95 583.92 h-2 M268.95 581.59 h-2 M268.95 579.58 h-2 M268.95 577.80 h-2 M268.95 565.75 h-2 M268.95 559.63 h-2 M268.95 555.28 h-2 M268.95 551.91 h-2 M268.95 549.16 h-2 M268.95 546.83 h-2 M268.95 544.82 h-2 M268.95 543.04 h-2 M268.95 530.99 h-2 M268.95 524.87 h-2" stroke="#222" stroke-width="0.6"/>
<text x="263.20" y="545.35" font-size="12" text-anchor="end">1<tspan dx="-0.9">0</tspan><tspan dy="-3.9" font-size="8.4">0</tspan></text>
<text x="263.20" y="580.11" font-size="12" text-anchor="end">1<tspan dx="-0.9">0</tspan><tspan dy="-3.9" font-size="8.4">&#8722;1</tspan></text>
<text x="263.20" y="614.87" font-size="12" text-anchor="end">1<tspan dx="-0.9">0</tspan><tspan dy="-3.9" font-size="8.4">&#8722;2</tspan></text>
<text x="263.20" y="649.63" font-size="12" text-anchor="end">1<tspan dx="-0.9">0</tspan><tspan dy="-3.9" font-size="8.4">&#8722;3</tspan></text>
<rect x="354.60" y="529.70" width="96.3" height="38.6" rx="1.5" fill="#ffffff" fill-opacity="0.85" stroke="#dcdcdc" stroke-width="0.75"/>
<path d="M357.55 536.55 h20.7" stroke="#000000" stroke-width="1.6"/>
<path d="M357.55 555.65 h20.7" stroke="#31901f" stroke-width="1.6"/>
<text x="384.70" y="539.80" font-size="9.5" text-anchor="start">GT</text>
<text x="384.70" y="553.05" font-size="9.5" text-anchor="start">vRBA</text>
<text x="384.70" y="562.85" font-size="9.5" text-anchor="start">(RL2=1.25e-02)</text>
<path d="M504.95 524.50 V653.35 M547.48 524.50 V653.35 M590.00 524.50 V653.35 M632.52 524.50 V653.35 M675.05 524.50 V653.35 M496.45 541.30 H683.55 M496.45 576.69 H683.55 M496.45 612.08 H683.55 M496.45 647.47 H683.55" stroke="#e0e0e0" stroke-width="0.55" stroke-dasharray="2.1 1.4" fill="none"/>
<path d="M504.95 530.72 512.61 530.72 521.98 534.25 522.10 534.15 522.17 534.35 522.26 534.22 522.36 534.52 522.55 534.28 522.72 534.66 522.74 534.49 523.12 534.71 523.19 534.64 523.50 534.83 523.50 534.95 523.81 534.85 523.87 535.04 524.12 534.97 524.43 535.33 524.44 535.13 524.59 535.11 524.82 535.41 525.20 535.41 525.39 535.60 525.52 535.53 525.58 535.74 525.68 535.60 525.83 535.86 525.96 535.86 526.14 535.57 526.15 535.85 526.30 536.03 526.33 535.81 526.52 536.13 526.77 535.87 526.92 536.22 527.08 536.19 527.09 536.06 527.23 536.09 527.28 536.37 527.39 536.14 527.55 536.51 527.66 536.35 527.85 536.66 528.04 536.53 528.17 536.75 528.23 536.53 528.42 536.83 528.60 536.67 528.63 536.84 528.95 536.81 529.26 537.24 529.36 537.03 529.41 537.16 529.55 537.07 529.57 537.23 529.72 537.10 529.74 537.22 529.88 537.20 529.93 537.46 530.12 537.46 530.19 537.23 530.50 537.79 530.66 537.47 530.87 537.88 531.06 537.67 531.28 537.98 531.44 537.86 531.44 538.04 531.59 538.14 531.63 537.99 531.75 538.17 532.01 538.17 532.06 538.32 532.21 538.11 532.99 538.68 533.15 538.41 533.30 538.85 533.33 538.63 533.71 538.75 533.77 539.00 534.08 538.90 534.28 539.10 534.66 539.02 534.86 539.44 535.04 539.36 535.33 539.49 535.42 539.39 535.48 539.57 535.60 539.48 535.79 539.73 535.98 539.76 536.10 540.05 536.26 539.78 536.55 540.12 536.57 539.88 536.73 540.22 536.74 540.09 536.88 540.17 537.12 540.09 537.19 540.48 537.31 540.36 537.35 540.55 538.13 540.55 538.44 540.89 538.63 540.71 538.82 541.11 539.01 541.01 539.20 541.21 539.22 541.10 539.37 541.17 539.39 541.34 539.53 541.35 539.58 541.21 539.68 541.41 539.84 541.25 540.15 541.64 540.71 541.59 540.90 541.93 540.93 541.74 541.24 542.01 541.39 541.78 541.47 542.25 541.55 542.02 542.17 542.40 542.23 542.20 542.64 542.71 542.79 542.58 542.79 542.72 543.17 542.84 543.36 542.71 543.42 542.89 543.88 543.04 544.04 543.42 544.12 542.99 544.19 543.20 544.51 543.27 544.66 543.54 544.82 543.35 545.06 543.74 545.13 543.43 545.63 544.04 545.82 543.97 545.91 543.74 546.01 544.15 546.06 543.92 546.53 544.24 546.58 544.13 546.77 544.44 546.96 544.22 547.15 544.59 547.31 544.39 547.71 544.92 547.77 544.72 547.90 544.81 548.08 544.71 548.28 544.81 548.47 545.19 548.55 545.07 548.85 545.29 549.02 545.14 549.33 545.67 549.42 545.52 549.64 545.67 549.95 545.52 549.98 546.03 550.17 545.75 550.42 545.93 550.55 545.88 550.57 546.04 550.73 546.09 550.74 545.81 550.88 546.17 550.93 546.05 551.20 546.27 551.35 546.22 551.69 546.59 551.88 546.38 551.97 546.82 552.25 546.65 552.28 546.89 552.60 546.81 552.63 547.02 552.75 546.87 552.82 547.10 552.91 546.95 553.01 547.16 553.20 547.09 553.53 547.36 553.69 547.20 553.96 547.60 554.00 547.34 554.15 547.65 554.31 547.53 554.34 547.99 554.46 547.79 554.52 547.93 554.71 547.87 554.77 548.05 554.93 547.72 555.09 548.07 555.24 547.93 555.40 548.30 555.47 548.15 555.55 548.32 555.66 548.16 555.71 548.40 555.85 548.23 555.86 548.53 556.02 548.49 556.04 548.70 556.17 548.26 556.23 548.56 556.61 548.69 556.64 548.51 556.80 548.65 556.80 548.87 557.11 548.91 557.36 549.25 557.42 549.05 557.55 549.25 557.57 549.06 557.74 549.42 557.89 549.14 557.93 549.57 558.04 549.09 558.51 549.69 558.66 549.68 558.69 549.97 558.82 549.72 559.13 550.07 559.25 549.96 559.44 550.10 559.63 550.01 559.91 550.49 560.38 550.47 560.58 550.75 560.69 550.60 560.77 550.80 560.84 550.66 560.96 550.82 561.00 550.58 561.15 550.98 561.15 550.82 561.31 550.83 561.34 551.01 561.46 551.05 561.53 550.86 561.93 551.41 562.09 551.13 562.09 551.31 562.28 551.25 562.47 551.51 562.55 551.38 562.66 551.78 562.71 551.46 562.87 551.68 563.04 551.64 563.18 551.90 563.49 551.88 563.64 552.16 563.80 552.15 563.80 551.95 564.11 552.10 564.27 552.41 564.55 552.43 564.58 552.63 564.73 552.31 564.93 552.87 565.04 552.71 565.20 552.94 565.31 552.87 565.50 552.98 565.51 552.84 565.67 553.19 565.69 553.07 565.82 553.26 566.07 553.01 566.13 553.38 566.26 553.31 566.75 553.67 566.82 553.51 566.91 553.68 567.01 553.55 567.20 554.00 567.22 553.88 567.38 553.93 567.39 553.67 567.53 554.09 567.58 553.90 567.77 554.15 567.84 554.01 567.96 554.24 568.00 553.99 568.31 554.37 568.47 554.31 568.53 554.53 568.90 554.62 568.93 554.86 569.24 554.72 569.28 554.96 569.56 554.85 569.66 555.02 569.71 554.88 569.87 555.22 570.02 555.35 570.18 555.22 570.33 555.48 570.42 555.36 570.61 555.60 570.64 555.50 570.80 555.62 570.80 555.78 570.99 555.65 571.17 555.95 571.36 555.78 571.58 556.08 571.73 556.07 571.74 556.24 572.31 556.24 572.50 556.62 572.82 556.50 572.88 556.80 573.07 556.71 573.29 556.97 573.44 556.83 573.76 557.26 573.91 557.10 574.01 557.46 574.07 557.32 574.20 557.37 574.22 557.13 574.53 557.53 574.85 557.61 575.00 557.88 575.15 557.80 575.31 558.07 575.47 558.05 575.53 557.87 575.62 558.01 575.72 557.95 575.78 558.39 575.93 558.07 576.47 558.67 576.56 558.44 576.85 558.89 576.87 558.63 577.18 559.00 577.23 558.78 577.61 559.28 577.80 559.08 577.96 559.33 577.99 559.17 578.17 559.53 578.42 559.43 578.55 559.83 578.58 559.49 578.93 559.97 579.05 559.76 579.31 560.13 579.36 559.96 579.50 560.05 579.51 560.26 579.67 560.23 579.69 560.02 579.82 560.36 579.88 560.19 580.26 560.63 580.29 560.35 580.45 560.78 580.63 560.62 580.76 560.93 581.07 560.95 581.20 561.10 581.38 561.05 581.54 561.38 581.77 561.06 582.00 561.77 582.15 561.74 582.16 561.48 582.34 561.72 582.53 561.62 582.78 562.08 582.94 561.88 583.25 562.40 583.28 562.20 583.40 562.17 583.47 562.35 583.66 562.33 584.03 562.65 584.04 562.53 584.18 562.60 584.34 562.90 584.49 562.75 584.80 563.03 585.11 563.11 585.27 563.45 585.36 563.27 585.58 563.38 585.74 563.68 585.89 563.54 586.05 563.71 586.12 563.59 586.69 564.23 586.83 563.97 586.98 564.32 587.07 564.22 587.14 564.56 587.29 564.28 587.60 564.58 587.76 564.44 587.82 564.74 588.01 564.72 588.07 564.93 588.20 564.75 588.23 565.13 588.38 565.04 588.58 565.26 588.77 565.20 588.85 565.37 588.96 565.25 589.00 565.58 589.16 565.29 589.32 565.65 589.34 565.55 589.53 565.73 589.63 565.66 589.72 565.92 589.78 565.76 589.91 566.03 590.09 565.92 590.09 566.06 590.25 566.08 590.28 565.87 590.41 566.16 590.85 566.46 591.03 566.50 591.04 566.41 591.18 566.62 591.34 566.51 591.42 566.94 591.49 566.83 591.65 566.92 591.80 566.84 591.81 567.02 591.96 567.06 591.99 566.92 592.12 567.40 592.43 567.30 592.55 567.52 592.58 567.30 592.74 567.37 592.74 567.63 592.93 567.76 593.05 567.66 593.12 567.81 593.31 567.76 593.52 568.27 593.69 568.05 593.88 568.30 593.98 568.17 594.07 568.33 594.45 568.48 594.45 568.72 594.61 568.61 594.92 568.94 595.20 569.00 595.23 569.22 595.38 569.21 595.39 569.05 595.70 569.36 595.77 569.15 595.85 569.51 595.96 569.36 596.34 569.71 596.47 569.70 596.53 569.54 596.63 569.85 596.78 569.76 596.91 570.13 596.94 570.06 597.25 570.30 597.28 570.14 597.72 570.63 597.85 570.51 598.04 570.81 598.18 570.77 598.42 570.97 598.50 571.25 598.61 570.96 598.65 571.15 598.80 571.09 598.96 571.51 599.18 571.30 599.27 571.35 599.43 571.67 599.74 571.70 599.74 571.88 599.93 572.04 600.05 571.85 600.12 572.12 600.36 572.12 600.50 572.42 600.52 572.26 600.67 572.27 601.07 572.65 601.26 572.49 601.45 573.01 601.45 572.78 601.76 573.06 601.92 572.94 602.07 573.47 602.23 573.32 602.39 573.67 602.39 573.26 602.58 573.65 602.70 573.75 602.77 573.57 603.01 573.95 603.15 574.05 603.34 573.97 603.47 574.20 603.53 574.09 604.10 574.74 604.10 574.49 604.56 574.99 604.72 574.77 605.03 575.30 605.04 575.17 605.23 575.22 605.61 575.56 605.65 575.42 605.80 575.69 605.81 575.58 605.96 575.69 605.99 575.89 606.12 575.90 606.18 575.67 606.28 575.95 606.74 576.16 606.90 576.45 607.05 576.40 607.12 576.62 607.36 576.60 607.50 576.87 607.52 576.73 607.68 576.78 607.69 576.94 607.83 577.02 607.88 576.94 607.99 577.14 608.14 577.06 608.26 577.41 608.30 577.24 608.45 577.26 608.45 577.55 608.64 577.47 608.92 577.82 609.20 577.83 609.39 578.02 609.39 577.93 609.77 578.36 610.01 578.25 610.17 578.63 610.32 578.58 610.48 578.91 610.63 578.83 610.72 579.10 610.79 578.92 610.91 579.07 610.94 578.91 611.25 579.42 611.41 579.38 611.57 579.79 611.72 579.64 612.04 580.01 612.19 579.80 612.50 580.25 612.65 580.21 612.97 580.43 613.12 580.69 613.28 580.73 613.43 580.58 613.56 581.02 613.74 581.04 613.74 581.24 613.90 581.21 613.93 581.03 614.06 581.34 614.31 581.25 614.37 581.50 614.68 581.60 614.69 581.89 614.83 581.78 615.07 581.91 615.14 582.28 615.26 582.00 615.45 582.28 615.46 582.20 615.61 582.31 615.64 582.16 616.08 582.79 616.20 582.70 616.39 582.83 616.54 583.18 616.58 583.01 616.77 583.09 616.86 583.46 616.96 583.29 617.01 583.51 617.15 583.54 617.17 583.45 617.53 583.79 617.72 583.80 617.94 584.29 618.26 584.20 618.72 584.71 619.04 584.92 619.19 584.88 619.23 585.11 619.35 585.03 619.42 585.21 619.50 585.13 619.61 585.39 619.80 585.32 620.28 585.94 620.37 585.89 620.90 586.15 621.06 586.42 621.12 586.30 621.21 586.80 621.50 586.44 622.07 586.60 622.45 586.45 622.64 586.77 623.02 586.55 623.20 586.68 623.39 586.51 623.77 586.48 623.96 586.77 624.34 586.48 624.53 586.64 624.72 586.49 625.10 586.72 625.29 586.42 625.48 586.74 625.66 586.58 626.42 586.78 626.61 586.57 626.80 586.71 626.99 586.40 627.37 586.77 627.75 586.50 627.93 586.47 628.12 586.63 628.88 586.45 629.26 586.63 630.02 586.71 630.39 586.54 630.77 586.71 630.96 586.56 632.29 586.51 632.85 586.83 633.04 586.62 633.80 586.84 633.99 586.48 634.18 586.85 634.75 586.51 634.94 586.66 635.31 586.54 635.50 586.66 635.69 586.32 635.88 586.54 636.64 586.55 637.21 585.36 637.39 585.22 637.58 585.30 638.26 586.66 638.26 619.34 638.53 619.47 639.29 619.27 639.48 619.54 640.04 619.46 640.42 619.25 640.80 619.47 641.37 619.21 641.56 619.53 641.94 619.31 642.88 619.53 643.26 619.37 643.64 619.49 643.83 619.41 644.02 619.59 644.21 619.17 644.40 619.50 645.15 619.39 645.34 619.53 645.53 619.22 645.91 619.58 646.10 619.27 646.85 619.50 647.04 619.20 647.61 619.58 647.99 619.62 648.18 619.44 649.31 619.49 649.50 619.36 650.26 619.47 650.45 619.23 650.83 619.62 651.21 619.55 651.58 619.11 651.77 619.63 651.96 619.33 652.15 619.43 652.34 619.22 652.72 619.48 652.91 619.32 653.29 619.41 653.48 619.61 653.67 619.39 654.80 619.46 655.18 618.82 655.37 617.99 655.75 617.13 656.31 618.82 656.50 619.29 656.55 619.20 656.55 646.63 656.69 646.93 657.07 646.70 657.45 646.66 657.64 646.72 657.83 647.08 658.02 646.95 658.40 647.02 658.59 646.80 658.77 646.92 659.72 647.00 659.91 646.77 660.29 647.05 661.04 646.81 661.23 646.93 661.61 646.80 661.99 646.90 662.56 646.72 662.94 647.02 663.13 646.71 663.32 647.03 663.50 646.98 663.69 646.63 663.88 646.83 664.07 646.64 664.64 647.10 664.83 646.87 665.21 646.83 665.40 646.60 665.59 646.77 666.34 646.79 666.72 647.06 666.91 646.89 667.48 646.78 667.86 647.00 668.23 646.77 668.42 646.98 668.61 646.77 668.80 646.94 668.99 646.92 669.18 646.71 669.37 646.88 669.56 646.77 669.94 646.83 670.13 646.66 670.69 646.81 670.88 647.04 671.07 647.06 671.64 646.67 672.02 646.90 672.78 646.81 672.96 646.94 673.15 646.79 673.53 646.89 673.72 646.68 674.10 646.72 674.48 647.10 674.67 646.78 675.05 646.99" fill="none" stroke="#31901f" stroke-width="1.6" stroke-linejoin="round" stroke-linecap="square"/>
<rect x="496.45" y="524.50" width="187.10" height="128.85" fill="none" stroke="#4a4a4a" stroke-width="0.85"/>
<path d="M504.95 653.35 v2.9 M547.48 653.35 v2.9 M590.00 653.35 v2.9 M632.52 653.35 v2.9 M675.05 653.35 v2.9" stroke="#3a3a3a" stroke-width="0.75"/>
<text x="504.95" y="667.10" font-size="12" text-anchor="middle">&#8722;20</text>
<text x="547.48" y="667.10" font-size="12" text-anchor="middle">&#8722;10</text>
<text x="590.00" y="667.10" font-size="12" text-anchor="middle">0</text>
<text x="632.52" y="667.10" font-size="12" text-anchor="middle">10</text>
<text x="675.05" y="667.10" font-size="12" text-anchor="middle">20</text>
<path d="M496.45 541.30 h-3.5 M496.45 576.69 h-3.5 M496.45 612.08 h-3.5 M496.45 647.47 h-3.5" stroke="#222" stroke-width="0.8"/>
<path d="M496.45 652.95 h-2 M496.45 650.90 h-2 M496.45 649.09 h-2 M496.45 636.82 h-2 M496.45 630.58 h-2 M496.45 626.16 h-2 M496.45 622.73 h-2 M496.45 619.93 h-2 M496.45 617.56 h-2 M496.45 615.51 h-2 M496.45 613.70 h-2 M496.45 601.43 h-2 M496.45 595.19 h-2 M496.45 590.77 h-2 M496.45 587.34 h-2 M496.45 584.54 h-2 M496.45 582.17 h-2 M496.45 580.12 h-2 M496.45 578.31 h-2 M496.45 566.04 h-2 M496.45 559.80 h-2 M496.45 555.38 h-2 M496.45 551.95 h-2 M496.45 549.15 h-2 M496.45 546.78 h-2 M496.45 544.73 h-2 M496.45 542.92 h-2 M496.45 530.65 h-2" stroke="#222" stroke-width="0.6"/>
<text x="490.70" y="545.20" font-size="12" text-anchor="end">1<tspan dx="-0.9">0</tspan><tspan dy="-3.9" font-size="8.4">0</tspan></text>
<text x="490.70" y="580.59" font-size="12" text-anchor="end">1<tspan dx="-0.9">0</tspan><tspan dy="-3.9" font-size="8.4">&#8722;1</tspan></text>
<text x="490.70" y="615.98" font-size="12" text-anchor="end">1<tspan dx="-0.9">0</tspan><tspan dy="-3.9" font-size="8.4">&#8722;2</tspan></text>
<text x="490.70" y="651.37" font-size="12" text-anchor="end">1<tspan dx="-0.9">0</tspan><tspan dy="-3.9" font-size="8.4">&#8722;3</tspan></text>
<rect x="501.30" y="609.50" width="96.3" height="38.6" rx="1.5" fill="#ffffff" fill-opacity="0.85" stroke="#dcdcdc" stroke-width="0.75"/>
<path d="M504.25 616.35 h20.7" stroke="#000000" stroke-width="1.6"/>
<path d="M504.25 635.45 h20.7" stroke="#31901f" stroke-width="1.6"/>
<text x="531.40" y="619.60" font-size="9.5" text-anchor="start">GT</text>
<text x="531.40" y="632.85" font-size="9.5" text-anchor="start">vRBA</text>
<text x="531.40" y="642.65" font-size="9.5" text-anchor="start">(RL2=8.53e-03)</text>
<text x="135.05" y="9.65" font-size="14" text-anchor="middle">Baseline Worst Sample</text>
<text x="362.50" y="9.65" font-size="14" text-anchor="middle">vRBA Worst Sample</text>
<text x="590.00" y="9.65" font-size="14" text-anchor="middle">Random Sample</text>
<text transform="translate(15.90,78.88) rotate(-90)" font-size="11.6" text-anchor="middle">BGD (DeepONet)</text>
<text transform="translate(15.90,248.97) rotate(-90)" font-size="11.6" text-anchor="middle">BGD (DeepONet)</text>
<text transform="translate(7.85,419.15) rotate(-90)" font-size="11.6" text-anchor="middle">SST (SVD-DeepONet)</text>
<text transform="translate(7.85,588.92) rotate(-90)" font-size="11.6" text-anchor="middle">SST (SVD-DeepONet)</text>
<text x="135.05" y="341.00" font-size="11.6" text-anchor="middle">time</text>
<text x="135.05" y="680.50" font-size="11.6" text-anchor="middle">x</text>
<text x="362.50" y="341.00" font-size="11.6" text-anchor="middle">time</text>
<text x="362.50" y="680.50" font-size="11.6" text-anchor="middle">x</text>
<text x="590.00" y="341.00" font-size="11.6" text-anchor="middle">time</text>
<text x="590.00" y="680.50" font-size="11.6" text-anchor="middle">x</text>
</svg></body></html>
